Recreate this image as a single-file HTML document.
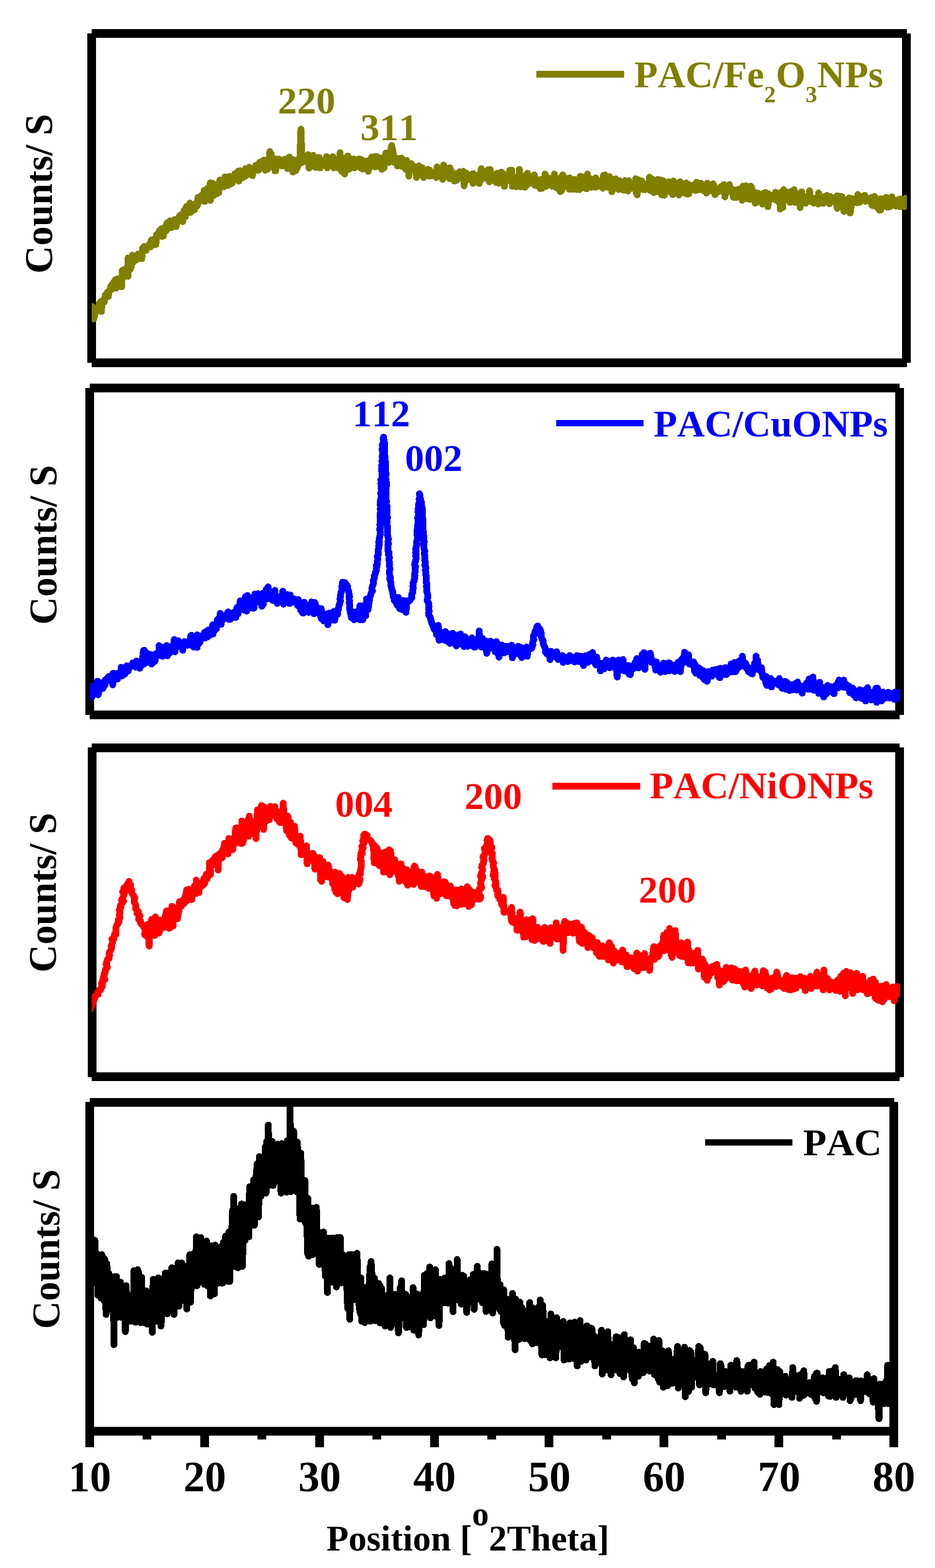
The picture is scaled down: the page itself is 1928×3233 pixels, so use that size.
<!DOCTYPE html>
<html lang="en"><head><meta charset="utf-8"><title>XRD patterns</title>
<style>html,body{margin:0;padding:0;background:#fff;}body{width:1928px;height:3233px;overflow:hidden;}svg{display:block;}text{white-space:pre;font-kerning:none;font-variant-ligatures:none;}</style>
</head><body>
<svg width="1928" height="3233" viewBox="0 0 1928 3233">
<rect width="1928" height="3233" fill="#fff"/>
<g shape-rendering="crispEdges"><rect x="180" y="69" width="18" height="679" fill="#000"/><rect x="1860" y="69" width="18" height="679" fill="#000"/><rect x="189" y="60" width="1681" height="18" fill="#000"/><rect x="189" y="739" width="1681" height="18" fill="#000"/><rect x="176" y="800" width="18" height="674" fill="#000"/><rect x="1846" y="800" width="18" height="674" fill="#000"/><rect x="185" y="791" width="1670" height="18" fill="#000"/><rect x="185" y="1465" width="1670" height="18" fill="#000"/><rect x="181" y="1541" width="18" height="680" fill="#000"/><rect x="1846" y="1541" width="18" height="680" fill="#000"/><rect x="189" y="1533" width="1666" height="18" fill="#000"/><rect x="189" y="2211" width="1666" height="18" fill="#000"/><rect x="176" y="2272" width="18" height="712" fill="#000"/><rect x="1834" y="2272" width="18" height="712" fill="#000"/><rect x="185" y="2264" width="1659" height="18" fill="#000"/><rect x="185" y="2942" width="1659" height="18" fill="#000"/><rect x="294" y="2960" width="18" height="8" fill="#000"/><rect x="413" y="2960" width="18" height="24" fill="#000"/><rect x="531" y="2960" width="18" height="8" fill="#000"/><rect x="650" y="2960" width="18" height="24" fill="#000"/><rect x="768" y="2960" width="18" height="8" fill="#000"/><rect x="887" y="2960" width="18" height="24" fill="#000"/><rect x="1005" y="2960" width="18" height="8" fill="#000"/><rect x="1123" y="2960" width="18" height="24" fill="#000"/><rect x="1242" y="2960" width="18" height="8" fill="#000"/><rect x="1360" y="2960" width="18" height="24" fill="#000"/><rect x="1479" y="2960" width="18" height="8" fill="#000"/><rect x="1597" y="2960" width="18" height="24" fill="#000"/><rect x="1716" y="2960" width="18" height="8" fill="#000"/></g>
<defs><clipPath id="c1"><rect x="189" y="78" width="1681" height="661"/></clipPath><clipPath id="c2"><rect x="185" y="809" width="1671" height="656"/></clipPath><clipPath id="c3"><rect x="189" y="1551" width="1667" height="660"/></clipPath><clipPath id="c4"><rect x="185" y="2273" width="1659" height="669"/></clipPath></defs>
<g shape-rendering="crispEdges">
<g clip-path="url(#c1)"><polyline points="180.0,636.3 182.3,648.7 184.3,635.5 186.1,645.3 188.1,636.4 189.7,635.8 190.5,632.2 192.1,655.5 193.5,657.7 195.9,647.1 198.0,636.1 199.6,634.9 201.7,640.4 203.4,636.0 205.1,624.8 207.3,632.2 207.5,622.1 209.1,642.4 210.5,620.5 212.9,623.0 215.3,622.2 217.1,608.0 218.9,611.0 221.1,609.1 221.7,602.4 223.3,611.3 224.7,602.5 226.4,599.8 228.7,589.1 230.7,596.3 232.3,586.2 234.1,583.1 235.8,580.4 236.1,589.6 237.7,577.0 239.1,594.3 240.8,582.8 242.8,574.8 244.8,582.6 246.5,590.0 248.6,581.7 250.4,579.7 250.7,591.5 252.3,557.3 253.7,572.9 255.6,559.3 257.9,557.7 260.2,553.4 262.0,553.7 263.9,569.9 264.1,531.7 265.7,557.5 267.1,547.2 269.0,554.6 271.0,548.1 273.0,535.0 273.3,526.1 274.9,540.4 276.3,536.3 278.1,529.2 280.3,536.1 282.6,529.3 284.9,523.9 286.6,524.2 288.2,532.7 290.4,525.2 292.2,529.8 292.4,533.5 294.0,511.9 295.4,513.7 297.2,508.2 299.3,512.5 301.1,516.5 302.7,510.1 304.5,507.7 306.3,506.9 306.6,509.4 308.2,503.2 309.6,509.5 311.7,495.1 313.8,498.3 315.5,498.0 317.1,505.2 319.4,491.5 321.1,490.5 321.4,504.3 323.0,483.6 324.4,486.2 326.4,488.2 328.6,476.0 330.8,487.3 332.6,472.0 334.8,487.6 334.9,471.7 336.5,486.8 337.9,470.0 340.0,468.9 342.0,476.2 343.7,460.9 346.0,458.6 348.2,459.3 349.0,470.3 350.6,455.3 352.0,468.3 354.2,468.8 356.2,462.1 358.0,457.8 360.1,452.6 362.4,457.6 363.2,467.0 364.8,452.4 366.2,455.6 368.5,448.7 370.8,444.1 372.7,445.9 374.6,442.2 376.9,456.8 377.3,455.6 378.9,436.4 380.3,433.2 382.3,446.8 384.5,425.4 386.8,435.0 388.8,438.6 390.6,434.4 391.5,418.5 393.1,437.8 394.5,436.4 396.8,424.2 398.5,426.0 400.8,432.7 402.8,423.4 404.7,419.3 406.4,416.2 406.7,424.5 408.3,407.2 409.7,416.2 411.8,415.1 413.7,405.1 416.0,402.7 418.4,406.8 420.3,402.6 420.6,393.0 422.2,415.4 423.6,407.6 425.5,409.4 427.7,388.2 429.9,397.3 431.8,402.9 433.5,377.1 433.9,413.2 435.5,387.0 436.9,378.3 438.8,378.0 440.9,402.9 443.2,380.4 445.2,386.4 447.4,384.4 448.1,399.0 449.7,379.8 451.1,397.3 453.4,371.2 455.5,381.8 457.8,371.7 460.1,373.5 462.0,375.5 462.2,384.9 463.8,364.6 465.2,373.1 467.5,370.2 469.2,366.9 470.9,382.0 472.6,363.7 474.9,372.3 477.1,378.9 477.4,364.7 479.0,377.3 480.4,368.4 482.2,367.8 484.2,358.3 486.5,359.7 488.4,361.1 490.7,365.3 491.0,353.1 492.6,373.6 494.0,357.3 495.7,351.8 497.8,357.6 499.4,366.7 501.3,357.2 503.6,351.8 504.7,363.8 506.3,347.8 507.7,354.4 510.0,360.1 512.0,353.1 513.7,344.8 516.0,357.9 518.0,351.3 518.8,348.1 520.4,362.2 521.8,353.9 523.4,350.6 525.6,351.3 527.4,340.9 529.1,350.9 531.3,347.8 533.1,346.2 533.4,350.9 535.0,335.3 536.4,334.3 538.1,344.3 539.9,334.3 541.9,333.5 544.2,330.2 546.0,331.4 547.1,350.9 548.7,330.8 550.1,330.1 551.9,348.8 554.3,335.0 556.1,326.0 556.4,312.4 558.0,335.3 559.4,317.6 561.1,340.2 563.0,334.0 564.8,334.7 566.9,352.3 566.9,329.3 568.5,352.3 569.9,327.6 572.1,338.0 573.8,338.7 575.4,328.3 577.5,332.5 579.2,335.7 581.4,336.6 581.7,342.4 583.3,329.4 584.7,340.2 587.0,332.8 588.8,328.0 590.8,337.8 592.8,347.6 595.1,338.6 596.8,323.7 598.7,341.9 600.5,343.7 602.1,348.0 602.4,328.5 604.0,354.7 605.4,331.5 607.5,330.4 609.5,352.2 618.0,334.7 619.4,300.8 620.6,266.2 621.7,300.8 623.1,334.7 630.8,330.5 633.1,332.1 635.3,318.9 637.3,346.7 639.4,323.6 641.6,334.9 643.8,326.2 644.1,342.7 645.7,320.4 647.1,327.4 649.2,343.2 651.0,345.0 652.9,330.0 655.0,325.2 656.9,329.6 658.3,324.7 659.9,346.2 661.3,334.9 663.3,333.1 665.5,333.0 667.2,340.8 668.9,330.9 670.7,335.7 673.1,325.0 673.4,323.0 675.0,346.2 676.4,330.6 678.6,342.1 680.8,337.9 682.5,337.2 684.4,331.5 686.2,323.2 686.6,326.3 688.2,346.2 689.6,333.4 691.6,328.5 693.8,337.8 695.8,329.5 697.6,346.4 699.3,332.2 701.0,334.8 701.3,314.7 702.9,344.8 704.3,352.8 706.6,345.4 708.3,346.3 709.2,326.7 710.8,358.9 712.2,328.6 714.5,332.1 716.9,321.5 717.7,325.0 719.3,349.0 720.7,326.5 722.3,334.5 724.4,339.6 726.5,339.6 728.5,333.7 729.0,328.0 730.6,346.2 732.0,343.5 734.4,334.7 736.1,330.8 738.4,337.4 740.3,327.5 742.1,332.9 743.2,346.2 744.8,329.2 746.2,329.4 748.0,348.7 750.3,335.8 751.9,343.2 753.8,340.7 755.9,346.6 757.6,345.3 757.9,331.5 759.5,353.3 760.9,332.8 762.7,344.8 764.5,337.6 766.2,323.9 767.9,341.0 770.1,327.0 771.9,331.2 772.2,323.2 773.8,344.4 775.2,338.3 777.0,322.7 779.4,330.7 781.3,331.7 783.6,336.7 785.3,343.4 785.6,325.7 787.2,349.0 788.6,338.7 790.3,335.5 791.9,345.8 793.8,329.1 795.6,315.5 802.0,334.7 805.1,312.1 807.6,300.2 810.2,312.1 813.3,334.7 817.5,326.4 819.4,342.0 821.1,332.3 823.5,327.1 825.8,342.4 828.1,333.6 828.1,326.1 829.7,343.6 831.1,343.2 833.0,337.0 834.8,336.8 836.8,349.1 838.5,330.8 840.5,339.8 842.8,342.2 843.1,363.2 844.7,340.0 846.1,345.9 848.1,337.4 850.5,345.8 852.6,350.5 854.7,346.7 856.9,353.4 857.2,344.2 858.8,366.0 860.2,353.2 861.9,351.9 863.7,342.1 865.5,354.4 867.7,346.5 869.6,346.7 870.5,345.9 872.1,361.9 873.5,366.1 875.7,360.7 877.9,353.3 880.1,361.3 882.3,349.3 884.7,361.9 884.7,363.2 886.3,350.8 887.7,353.7 889.6,360.3 892.0,362.1 893.9,356.3 895.8,357.7 897.7,355.9 899.5,352.6 899.8,366.0 901.4,344.1 902.8,361.7 904.9,357.5 907.2,358.5 909.0,355.9 910.7,356.6 912.8,369.7 913.0,363.4 914.6,340.2 916.0,357.0 918.0,349.7 920.3,351.3 922.6,359.4 924.9,353.6 927.3,368.6 927.6,345.9 929.2,365.5 930.6,363.1 932.6,354.5 934.6,358.4 936.7,373.2 938.5,368.9 940.4,363.1 941.3,371.7 942.9,357.6 944.3,366.3 946.1,368.5 948.4,354.2 950.8,363.6 952.6,360.4 954.8,364.4 955.4,353.3 957.0,383.0 958.4,372.3 960.6,369.6 962.3,357.5 964.6,367.7 966.7,370.5 968.9,363.0 971.1,369.5 973.3,364.8 975.1,358.0 975.4,378.0 977.0,360.3 978.4,363.2 980.1,362.4 982.2,372.8 984.1,363.0 986.0,360.6 988.0,378.5 990.1,360.0 990.9,373.0 992.5,347.8 993.9,353.8 995.5,358.4 997.9,363.5 1000.0,355.7 1001.8,353.3 1003.6,368.0 1005.5,350.3 1007.3,367.8 1007.6,352.2 1009.2,374.9 1010.6,349.5 1012.5,358.1 1014.7,368.6 1016.4,368.4 1018.6,366.2 1020.5,364.1 1022.7,367.6 1023.0,376.3 1024.6,357.3 1026.0,368.7 1027.7,377.8 1029.7,366.1 1031.8,371.6 1033.7,354.8 1035.6,368.4 1037.5,370.2 1038.4,358.6 1040.0,384.4 1041.4,367.7 1043.2,367.8 1045.1,366.2 1047.0,365.0 1049.0,372.4 1051.1,351.3 1052.8,370.0 1054.9,350.5 1055.2,360.8 1056.8,384.4 1058.2,379.0 1060.4,366.5 1062.6,374.9 1064.7,384.9 1066.5,373.4 1068.5,370.7 1070.7,356.1 1071.0,349.4 1072.6,374.0 1074.0,385.2 1075.7,378.0 1077.8,362.5 1079.8,367.8 1082.2,386.0 1084.5,367.5 1085.9,382.4 1087.5,357.3 1088.9,369.5 1090.9,374.8 1093.0,368.1 1094.6,377.7 1097.0,374.2 1099.4,369.9 1101.5,368.3 1101.7,360.5 1103.3,382.3 1104.7,380.2 1106.7,376.9 1108.4,370.4 1110.1,384.2 1112.2,378.7 1114.0,388.9 1114.4,388.4 1116.0,370.0 1117.4,388.2 1119.4,375.2 1121.3,367.9 1123.5,365.7 1123.9,358.9 1125.5,384.6 1126.9,378.3 1128.8,366.6 1130.9,381.5 1132.9,367.6 1134.9,379.1 1136.5,369.2 1138.7,383.9 1140.8,365.5 1143.0,369.5 1143.3,358.9 1144.9,381.1 1146.3,384.8 1148.2,387.6 1150.2,380.0 1152.0,372.9 1153.8,385.7 1155.4,395.1 1157.6,364.2 1158.7,391.8 1160.3,360.5 1161.7,378.4 1164.1,366.6 1165.7,379.6 1167.8,374.2 1170.1,384.0 1172.0,378.2 1173.8,390.4 1174.6,366.8 1176.2,383.7 1177.6,383.2 1179.2,389.9 1181.0,380.6 1183.0,390.2 1185.0,369.9 1186.8,373.1 1189.1,390.6 1190.9,381.0 1192.8,371.4 1194.6,391.0 1196.3,363.4 1196.7,387.3 1198.3,363.7 1199.7,387.5 1201.6,385.7 1203.9,386.9 1205.6,366.4 1207.8,387.0 1209.4,373.0 1209.7,389.4 1211.3,358.9 1212.7,380.2 1214.9,383.3 1217.1,368.2 1219.4,385.9 1221.5,378.0 1223.8,383.2 1226.0,375.6 1227.6,386.1 1228.4,366.8 1230.0,383.3 1231.4,384.8 1233.2,378.9 1235.0,377.1 1236.9,373.2 1239.1,375.7 1241.1,380.9 1242.9,388.0 1244.5,361.5 1246.4,374.3 1247.4,360.5 1249.0,379.8 1250.4,367.6 1252.5,369.1 1254.7,386.7 1256.8,364.3 1258.9,379.5 1260.1,375.0 1261.7,395.4 1263.1,386.5 1264.9,389.9 1266.8,382.7 1269.0,368.5 1270.8,375.9 1272.9,380.9 1274.9,388.6 1275.9,390.7 1277.5,372.7 1278.9,382.2 1280.6,387.7 1282.6,381.2 1284.5,379.4 1286.2,392.5 1288.5,372.3 1290.8,376.5 1292.5,384.2 1294.2,385.5 1294.9,393.9 1296.5,372.4 1297.9,378.2 1300.2,380.0 1301.9,382.4 1304.1,388.5 1306.3,384.8 1308.3,381.5 1310.1,390.8 1310.7,368.4 1312.3,398.0 1313.7,401.7 1315.5,370.4 1317.1,387.2 1318.9,385.9 1320.8,379.4 1322.6,378.8 1323.4,373.2 1325.0,390.7 1326.4,382.0 1328.2,381.0 1330.0,391.1 1332.0,388.9 1333.8,378.9 1336.2,380.7 1338.1,381.3 1339.3,365.3 1340.9,392.7 1342.3,392.9 1344.6,374.3 1346.5,369.8 1348.4,397.0 1350.7,387.6 1352.4,394.7 1354.4,389.7 1355.1,394.8 1356.7,370.0 1358.1,392.7 1360.5,379.7 1362.2,371.3 1364.2,401.7 1366.0,395.6 1367.9,395.6 1368.2,373.2 1369.8,402.6 1371.2,390.3 1373.0,386.1 1375.3,393.3 1377.2,390.6 1379.5,374.7 1381.2,385.0 1382.8,396.4 1385.1,381.7 1387.1,401.4 1387.4,395.2 1389.0,373.2 1390.4,395.1 1392.1,397.7 1393.9,379.2 1395.6,393.5 1397.8,387.9 1399.9,402.1 1401.6,390.8 1402.6,374.8 1404.2,396.5 1405.6,394.7 1407.4,385.5 1409.1,394.5 1410.8,398.3 1412.8,387.4 1415.1,392.1 1415.3,377.2 1416.9,400.2 1418.3,383.6 1420.4,399.6 1422.2,381.2 1424.3,392.1 1426.2,389.9 1427.9,382.4 1432.2,389.8 1434.0,389.4 1434.5,392.8 1436.1,375.8 1437.5,391.2 1439.2,382.4 1440.9,391.4 1443.0,383.4 1445.2,377.8 1446.8,380.8 1448.4,389.7 1450.4,393.1 1452.4,388.2 1454.4,382.9 1456.0,390.2 1456.7,398.0 1458.3,377.6 1459.7,383.6 1461.7,382.4 1463.8,393.3 1465.8,385.5 1468.2,389.3 1470.3,378.9 1472.2,384.2 1472.5,383.0 1474.1,401.2 1475.5,392.3 1477.2,395.2 1479.0,396.3 1480.9,394.2 1482.7,389.7 1484.4,388.1 1486.0,385.6 1488.1,386.4 1490.1,394.6 1492.2,380.7 1494.2,388.1 1494.7,405.9 1496.3,384.5 1497.7,397.4 1499.9,388.3 1502.0,385.7 1504.3,380.5 1506.0,388.3 1508.1,389.2 1510.0,392.7 1512.0,406.5 1513.8,396.2 1514.1,407.5 1515.7,391.9 1517.1,403.3 1518.7,406.8 1520.4,405.4 1522.4,400.0 1524.1,389.6 1526.4,402.0 1528.2,398.2 1530.2,403.9 1530.5,412.9 1532.1,383.7 1533.5,391.9 1535.4,402.8 1537.7,383.2 1539.7,387.8 1541.8,410.2 1544.1,404.3 1546.0,397.4 1546.3,411.0 1547.9,383.7 1549.3,385.7 1551.7,393.0 1553.4,401.1 1555.5,397.4 1557.4,418.9 1559.0,397.6 1561.2,407.8 1561.2,417.0 1562.8,398.4 1564.2,408.1 1566.1,415.3 1568.1,408.6 1570.0,402.3 1572.2,420.7 1574.1,398.6 1576.3,415.3 1578.7,397.0 1580.7,417.5 1582.9,411.9 1583.4,426.5 1585.0,399.8 1586.4,412.9 1588.1,407.1 1590.1,409.2 1591.9,402.9 1593.6,402.9 1595.6,403.4 1597.3,410.9 1598.9,411.0 1599.2,396.3 1600.8,412.6 1602.2,403.5 1604.0,414.6 1605.9,400.3 1608.2,406.3 1608.7,431.3 1610.3,396.3 1611.7,411.8 1614.1,427.7 1616.0,391.2 1618.3,407.3 1619.9,402.8 1621.7,409.6 1623.5,408.8 1624.6,412.7 1626.2,396.3 1627.6,410.1 1629.2,417.5 1631.2,409.8 1633.4,393.8 1635.3,409.0 1637.5,391.3 1639.9,417.5 1640.4,397.3 1642.0,417.0 1643.4,417.1 1645.0,400.9 1646.9,404.8 1648.8,399.7 1649.9,428.1 1651.5,401.7 1652.9,395.5 1655.2,407.2 1657.1,411.7 1659.3,410.6 1661.3,419.0 1663.5,407.4 1665.2,408.1 1667.1,403.7 1669.1,404.1 1669.4,393.2 1671.0,409.6 1672.4,408.1 1674.2,416.6 1676.4,417.7 1678.4,418.7 1680.7,409.0 1682.9,415.4 1684.6,407.6 1687.0,420.6 1687.9,397.9 1689.5,417.1 1690.9,416.7 1692.8,418.5 1694.9,412.8 1697.2,419.5 1699.5,405.4 1701.6,405.3 1703.3,415.5 1705.2,402.9 1707.4,405.6 1709.1,413.4 1710.1,420.2 1711.7,405.1 1713.1,407.0 1715.2,407.4 1717.2,416.2 1719.2,412.0 1721.6,413.9 1723.8,408.9 1726.2,403.5 1726.5,429.7 1728.1,408.5 1729.5,426.4 1731.7,407.4 1734.0,404.9 1736.3,405.8 1737.9,419.2 1738.6,415.1 1740.2,436.0 1741.6,411.5 1743.9,424.6 1745.6,418.9 1747.3,434.6 1749.3,423.8 1751.1,409.5 1751.2,408.2 1752.8,439.2 1754.2,433.8 1756.0,409.3 1757.9,419.1 1759.7,417.2 1762.0,416.3 1763.8,410.4 1765.7,417.1 1767.1,418.2 1768.7,401.1 1770.1,404.6 1772.2,417.1 1773.9,404.9 1776.1,410.2 1778.0,411.5 1779.8,408.4 1781.9,408.3 1782.9,402.7 1784.5,415.0 1785.9,409.9 1787.6,414.2 1790.0,410.8 1791.7,412.4 1794.1,413.7 1796.0,408.7 1796.3,407.4 1797.9,423.2 1799.3,407.3 1801.2,424.2 1803.2,405.2 1805.1,417.5 1807.2,419.1 1809.1,428.3 1811.4,414.3 1813.5,433.0 1814.6,409.9 1816.2,432.9 1817.6,410.3 1819.2,412.2 1821.2,415.7 1823.5,425.2 1825.4,413.3 1827.2,406.8 1829.1,426.8 1830.9,427.2 1832.8,410.0 1835.1,426.1 1837.2,413.6 1837.5,421.5 1839.1,405.9 1840.5,415.7 1842.7,414.2 1845.0,412.5 1847.3,424.8 1849.3,418.5 1851.2,413.1 1853.3,418.7 1853.6,410.9 1855.2,426.5 1856.6,410.3 1858.8,425.3 1860.9,421.4 1862.9,419.5 1864.8,417.5 1865.3,425.9 1866.9,409.0 1868.3,416.4 1870.2,420.0 1871.9,417.5" fill="none" stroke="#808000" stroke-width="14" stroke-linejoin="round" stroke-linecap="round"/></g>
<g clip-path="url(#c2)"><polyline points="182.7,1430.7 184.3,1426.1 184.4,1415.1 186.0,1431.9 187.4,1416.9 189.2,1437.3 191.6,1417.9 193.9,1431.1 196.0,1431.5 197.7,1411.4 200.0,1409.4 200.9,1404.5 202.5,1432.6 203.9,1409.4 206.1,1422.6 208.2,1408.1 210.3,1408.2 212.2,1419.4 214.4,1414.1 216.1,1403.0 216.7,1412.0 218.3,1400.6 219.7,1401.8 222.0,1401.7 224.1,1394.7 226.2,1399.4 228.5,1396.6 230.6,1405.3 232.4,1388.7 232.5,1412.0 234.1,1388.1 235.5,1389.7 237.9,1388.9 239.9,1399.6 242.2,1400.3 244.1,1387.9 245.8,1393.0 247.8,1385.6 248.4,1393.5 250.0,1375.5 251.4,1393.8 253.6,1386.5 255.7,1386.0 257.4,1389.9 259.3,1386.3 261.3,1372.6 263.5,1374.4 264.2,1383.5 265.8,1374.1 267.2,1377.1 269.4,1374.0 271.6,1372.3 273.9,1366.5 275.5,1367.0 277.5,1370.1 279.2,1368.9 280.0,1375.7 281.6,1362.9 283.0,1374.8 284.7,1366.9 286.5,1366.1 288.3,1377.9 290.1,1370.3 291.8,1367.0 293.7,1358.2 296.0,1341.2 296.3,1369.6 297.9,1340.7 299.3,1360.3 301.2,1366.9 303.4,1355.1 305.2,1347.9 307.0,1356.5 309.1,1359.6 310.8,1364.9 312.5,1349.9 312.8,1369.3 314.4,1351.9 315.8,1365.8 317.4,1354.7 319.5,1363.5 321.3,1347.9 323.3,1351.5 325.6,1350.3 327.9,1350.2 328.2,1331.2 329.8,1351.6 331.2,1343.5 333.2,1334.5 335.2,1353.2 337.0,1342.4 339.2,1347.1 341.2,1339.0 343.6,1331.2 343.9,1331.2 345.5,1352.0 346.9,1333.5 348.7,1347.1 350.4,1345.9 352.2,1340.2 354.2,1340.9 356.2,1334.4 358.5,1325.8 359.2,1318.5 360.8,1343.9 362.2,1327.4 364.5,1334.3 366.1,1330.1 367.9,1321.2 370.2,1332.4 372.1,1326.4 374.0,1327.0 375.1,1327.4 376.7,1340.8 378.1,1333.5 379.9,1322.9 381.7,1328.8 384.1,1329.0 385.9,1330.7 387.6,1325.4 389.6,1321.3 391.5,1325.3 391.8,1329.7 393.4,1310.6 394.8,1309.8 397.2,1318.2 399.1,1334.1 401.1,1326.0 402.9,1325.3 404.7,1325.5 406.5,1334.8 406.7,1309.0 408.3,1328.9 409.7,1327.3 411.7,1324.8 413.6,1320.6 416.0,1310.6 418.1,1312.0 419.7,1310.2 421.9,1303.6 422.6,1315.6 424.2,1302.7 425.6,1313.7 427.8,1313.3 429.6,1298.9 431.7,1306.1 433.3,1309.7 435.1,1298.1 436.9,1295.2 438.8,1288.3 439.1,1307.5 440.7,1293.9 442.1,1300.7 444.3,1287.4 446.2,1296.4 447.9,1278.3 450.0,1280.4 452.0,1273.1 453.8,1272.7 454.2,1264.7 455.8,1287.4 457.2,1274.4 459.0,1272.9 461.2,1277.0 462.8,1270.2 465.1,1270.5 466.8,1269.1 468.6,1263.8 470.3,1266.0 470.6,1261.5 472.2,1277.5 473.6,1277.0 475.3,1276.7 477.0,1266.8 478.7,1264.1 480.4,1272.9 482.1,1262.8 484.1,1266.5 486.0,1263.2 486.3,1273.1 487.9,1255.2 489.3,1252.0 491.0,1265.6 493.1,1255.5 495.4,1241.5 495.4,1238.6 497.0,1253.7 498.4,1238.7 500.3,1249.4 502.4,1244.5 504.1,1258.1 506.1,1230.1 508.4,1237.2 508.7,1260.0 510.3,1227.8 511.7,1230.0 513.6,1253.9 515.9,1247.4 517.8,1238.1 520.1,1253.8 521.8,1238.4 523.4,1253.8 523.9,1252.5 525.5,1225.1 526.9,1241.5 528.6,1241.9 530.4,1240.9 532.5,1224.2 534.4,1232.2 536.3,1227.1 537.9,1233.0 539.7,1239.9 539.8,1250.0 541.4,1223.5 542.8,1246.1 544.4,1224.1 546.7,1232.2 549.0,1215.4 551.0,1226.1 551.3,1234.7 552.9,1210.0 554.3,1223.2 556.2,1228.4 558.0,1229.1 560.0,1233.9 561.8,1237.9 564.1,1221.5 565.1,1238.1 566.7,1217.2 568.1,1232.5 569.9,1232.7 571.8,1244.1 574.0,1231.0 575.8,1234.3 577.7,1235.7 579.5,1228.8 581.2,1231.1 581.5,1236.2 583.1,1218.8 584.5,1245.8 586.6,1239.3 588.8,1239.4 590.4,1233.3 592.6,1226.0 594.6,1229.1 596.3,1239.9 596.8,1244.5 598.4,1226.7 599.8,1240.7 601.8,1242.1 603.6,1234.1 605.4,1239.3 607.1,1235.2 609.2,1238.5 611.2,1243.0 613.1,1244.2 613.4,1248.4 615.0,1236.2 616.4,1250.0 618.1,1248.2 620.1,1258.3 621.9,1249.9 622.1,1242.5 623.7,1263.7 625.1,1264.5 627.0,1241.6 628.8,1250.3 630.6,1254.3 632.8,1255.6 634.5,1248.1 636.4,1262.7 638.4,1248.6 640.5,1253.2 642.5,1241.2 644.9,1255.7 646.9,1250.1 647.2,1265.6 648.8,1242.4 650.2,1244.8 651.9,1257.0 653.7,1251.7 655.9,1262.6 658.2,1266.2 660.4,1256.6 662.4,1275.6 662.5,1255.1 664.1,1273.4 665.5,1268.2 667.4,1280.4 669.8,1266.2 672.0,1268.4 673.6,1273.4 675.7,1278.7 676.0,1288.3 677.6,1264.6 679.0,1264.2 680.9,1279.9 682.9,1268.0 684.5,1273.8 686.3,1274.5 688.3,1271.3 688.6,1260.4 690.2,1278.9 691.6,1269.3 696.0,1266.5 695.9,1263.4 696.6,1257.9 698.2,1256.0 698.4,1252.2 699.2,1248.2 700.8,1243.7 702.1,1239.4 700.9,1234.5 702.4,1230.7 702.4,1226.2 703.2,1221.0 704.4,1218.3 705.2,1213.1 704.9,1209.0 705.9,1204.7 706.2,1200.5 711.2,1201.6 714.9,1206.0 716.7,1209.5 716.0,1212.3 718.0,1216.5 719.1,1220.0 719.9,1226.4 720.9,1230.1 719.8,1233.3 720.8,1239.2 720.1,1242.9 721.5,1247.2 720.8,1250.3 720.5,1255.1 721.9,1259.7 724.7,1273.5 727.1,1263.8 729.4,1261.8 729.8,1277.9 731.4,1262.1 732.8,1264.2 735.2,1263.7 737.1,1263.6 737.4,1276.2 739.0,1261.1 740.4,1260.5 742.2,1249.0 742.5,1277.9 744.1,1251.8 745.5,1256.4 746.7,1251.9 748.3,1277.9 749.7,1249.1 751.5,1256.0 753.9,1257.2 754.2,1269.9 755.8,1234.9 757.2,1256.4 758.9,1256.9 762.7,1231.1 764.3,1227.2 764.7,1224.6 765.9,1221.7 767.9,1218.7 767.0,1213.3 767.7,1209.6 769.2,1205.7 770.3,1201.4 769.9,1197.0 771.5,1193.6 771.5,1187.9 773.6,1184.5 773.7,1180.8 775.7,1177.3 776.0,1174.1 776.7,1169.5 776.0,1165.9 778.2,1163.1 777.8,1159.5 778.9,1153.8 779.0,1152.0 778.0,1147.3 779.8,1144.0 779.9,1139.4 779.6,1137.7 780.2,1133.1 781.1,1128.9 780.9,1125.7 782.3,1122.7 780.9,1118.2 782.5,1115.4 782.2,1111.0 782.8,1107.3 783.6,1104.3 784.1,1098.5 783.7,1095.4 782.8,1091.0 784.5,1089.2 783.8,1084.6 783.3,1081.9 784.7,1076.5 784.3,1074.9 783.7,1069.9 784.0,1066.3 783.5,1063.3 783.9,1059.9 784.5,1056.7 785.3,1053.2 784.0,1049.5 785.6,1044.7 783.8,1040.6 785.8,1039.0 784.2,1033.7 785.1,1029.7 785.7,1027.9 786.3,1022.7 786.6,1020.5 784.9,1017.1 786.8,1013.5 786.5,1009.8 786.1,1004.2 786.5,1001.8 785.3,997.3 787.3,995.4 785.4,989.5 787.1,986.4 787.7,983.1 787.5,978.3 787.8,974.9 787.2,971.9 787.1,967.5 787.6,963.3 787.0,960.0 788.8,956.9 789.2,954.8 787.4,951.2 789.5,946.7 788.4,943.7 788.5,939.2 789.3,935.6 788.5,931.6 788.5,930.0 788.2,925.0 788.9,921.7 788.3,917.5 789.1,915.6 790.8,912.0 790.9,908.8 790.2,904.4 790.9,901.4 791.2,904.4 792.3,908.7 792.5,910.8 792.5,915.6 793.5,917.9 793.3,922.7 792.1,924.8 793.3,929.5 792.9,933.0 792.6,936.4 793.7,940.6 794.4,942.3 794.2,945.9 794.3,950.8 794.9,952.7 794.6,956.6 794.8,960.9 794.9,965.0 794.6,967.9 794.5,970.9 795.6,974.4 796.1,978.6 794.6,983.2 794.4,985.6 796.1,988.5 796.3,993.5 797.1,996.5 796.8,1001.7 796.1,1003.2 795.9,1008.5 795.1,1011.7 796.5,1015.6 796.3,1019.8 795.8,1022.3 796.4,1026.4 796.3,1029.8 797.0,1034.8 796.1,1037.0 796.5,1041.8 798.2,1043.9 798.3,1049.7 797.6,1052.6 798.5,1056.9 797.2,1060.0 796.9,1062.7 799.0,1066.9 798.2,1070.0 798.1,1072.6 798.4,1078.3 797.4,1079.7 798.8,1085.3 798.5,1087.3 799.3,1092.4 798.5,1096.4 799.4,1100.1 798.9,1102.7 800.1,1107.0 800.7,1111.3 800.6,1112.7 800.2,1117.9 801.2,1120.7 799.6,1124.9 800.1,1128.4 800.4,1132.9 800.1,1135.7 802.3,1139.5 800.7,1142.9 802.5,1146.7 802.8,1150.8 801.8,1152.8 802.7,1157.2 803.2,1160.8 803.2,1163.7 803.4,1169.0 803.8,1172.4 803.6,1174.6 803.1,1178.4 803.3,1182.8 803.7,1186.6 805.3,1191.0 803.5,1193.7 805.1,1196.9 805.8,1201.6 805.9,1206.1 806.9,1210.7 808.1,1216.1 810.2,1220.7 810.0,1224.8 811.2,1227.8 810.9,1230.5 813.8,1234.7 812.7,1237.5 815.2,1240.3 818.4,1244.6 819.3,1248.3 820.9,1231.5 822.3,1234.7 824.3,1249.5 824.3,1255.4 825.9,1239.9 827.3,1252.8 829.7,1257.1 831.6,1256.4 831.9,1238.2 833.5,1256.9 834.9,1242.0 836.9,1249.9 837.2,1262.7 838.8,1239.0 840.2,1241.9 846.2,1236.1 848.6,1233.3 849.4,1230.3 848.8,1226.1 850.9,1221.7 851.1,1217.9 852.1,1212.6 851.4,1208.6 851.7,1205.0 852.1,1200.9 854.0,1197.5 854.4,1194.5 855.1,1191.2 855.6,1187.2 854.8,1184.8 855.7,1179.9 856.4,1176.8 856.1,1171.4 856.9,1167.9 855.1,1164.7 855.7,1160.7 856.7,1157.6 857.4,1154.7 857.7,1150.9 857.3,1145.6 858.2,1144.0 857.1,1139.5 857.9,1136.7 857.3,1131.9 858.3,1128.0 859.5,1123.5 858.6,1122.2 859.3,1116.3 859.9,1114.3 860.9,1111.2 861.2,1106.1 859.9,1103.5 860.2,1099.1 859.7,1095.1 860.1,1091.9 861.7,1087.8 860.9,1083.9 861.3,1081.5 862.0,1078.1 862.0,1074.6 862.9,1071.3 861.1,1067.9 862.5,1064.4 863.3,1059.5 861.8,1055.0 863.8,1051.2 862.2,1049.3 863.8,1045.0 862.8,1041.4 864.8,1034.9 864.6,1031.5 864.2,1028.5 866.3,1023.4 866.2,1021.9 864.8,1018.2 865.6,1021.6 866.5,1026.1 867.3,1030.6 868.3,1035.3 869.5,1036.8 868.2,1040.9 870.4,1045.8 870.9,1049.7 870.8,1052.5 871.2,1056.8 871.4,1060.5 870.9,1062.3 871.3,1067.3 872.3,1071.1 872.3,1075.1 871.2,1078.7 871.9,1081.2 871.8,1084.9 872.0,1089.1 871.8,1092.0 872.9,1096.9 873.3,1099.5 872.8,1104.0 874.4,1106.7 873.5,1111.5 874.8,1116.7 873.2,1121.5 874.4,1123.9 873.9,1127.9 874.5,1132.2 875.8,1135.9 875.3,1140.8 875.5,1143.5 875.8,1147.5 876.3,1151.5 875.8,1155.3 877.3,1159.6 877.0,1161.6 875.8,1165.5 878.5,1170.5 878.1,1172.2 877.2,1175.7 878.0,1181.3 877.8,1184.6 878.8,1186.9 878.9,1190.0 879.5,1195.6 879.0,1199.4 879.2,1201.5 880.4,1204.8 879.1,1209.1 880.4,1211.9 879.9,1215.4 880.1,1219.1 881.5,1224.5 881.6,1226.5 881.7,1231.9 881.5,1235.0 881.2,1239.3 883.7,1243.0 884.3,1247.3 884.6,1251.3 884.0,1255.0 884.9,1260.4 884.0,1264.4 884.4,1268.5 887.0,1272.6 887.8,1275.3 888.8,1278.7 889.3,1281.7 896.1,1298.6 898.4,1292.4 900.3,1308.7 901.9,1302.7 903.6,1289.4 903.9,1296.3 905.5,1320.1 906.9,1301.3 908.6,1315.2 910.4,1307.0 912.5,1317.6 914.8,1311.6 916.5,1309.5 916.8,1320.1 918.4,1302.3 919.8,1316.2 921.9,1322.0 923.8,1306.8 926.1,1319.1 927.8,1326.6 929.7,1323.1 931.3,1322.3 931.7,1325.4 933.3,1305.7 934.7,1316.5 937.0,1321.8 938.7,1310.8 941.0,1331.8 943.2,1310.3 945.5,1309.1 947.7,1320.0 948.0,1327.7 949.6,1307.3 951.0,1313.5 952.7,1319.8 954.4,1319.1 956.7,1333.2 959.0,1313.2 960.8,1317.8 962.5,1319.6 964.2,1319.9 964.5,1332.7 966.1,1320.6 967.5,1321.2 969.9,1330.2 971.9,1330.7 972.9,1315.2 974.5,1332.2 975.9,1326.8 977.9,1334.2 979.9,1334.1 981.5,1326.9 983.8,1324.6 985.8,1316.6 987.8,1311.4 988.1,1301.0 989.7,1322.3 991.1,1331.5 993.2,1334.5 995.1,1316.5 997.4,1326.5 999.4,1324.4 1001.7,1321.7 1002.0,1323.3 1003.6,1347.0 1005.0,1333.3 1007.2,1338.5 1009.0,1325.3 1011.1,1327.0 1011.4,1321.8 1013.0,1335.9 1014.4,1326.3 1016.5,1333.0 1018.1,1335.2 1019.9,1335.6 1021.6,1344.6 1023.3,1323.1 1025.3,1336.4 1027.0,1349.1 1027.3,1328.4 1028.9,1354.9 1030.3,1334.8 1032.5,1347.6 1034.8,1330.0 1037.2,1343.5 1039.5,1346.4 1041.7,1332.5 1043.3,1332.8 1044.5,1344.2 1046.5,1340.1 1048.5,1333.0 1050.7,1332.4 1052.7,1341.4 1054.7,1338.8 1055.0,1330.3 1056.6,1356.3 1058.0,1346.7 1060.3,1349.5 1062.2,1337.5 1063.9,1342.0 1066.2,1341.9 1068.5,1332.5 1070.5,1348.9 1070.9,1347.9 1072.5,1334.1 1073.9,1335.7 1076.1,1355.9 1077.9,1348.4 1079.9,1345.2 1082.0,1348.0 1083.8,1335.3 1084.1,1352.0 1085.7,1334.1 1087.1,1353.4 1089.3,1340.0 1096.4,1336.5 1097.2,1332.3 1098.9,1329.2 1098.1,1327.0 1099.0,1322.2 1100.7,1319.0 1100.1,1314.0 1100.3,1310.7 1102.7,1307.7 1103.4,1303.8 1103.4,1301.8 1106.1,1297.4 1107.2,1292.2 1108.9,1290.5 1109.3,1294.3 1112.8,1296.5 1114.5,1299.9 1116.0,1306.0 1115.4,1308.3 1116.0,1312.2 1117.0,1315.7 1118.2,1318.6 1120.3,1322.3 1120.0,1326.0 1121.4,1330.6 1123.0,1333.8 1124.3,1336.6 1125.4,1339.6 1125.0,1344.3 1127.1,1347.6 1130.3,1349.6 1132.4,1346.3 1134.1,1360.0 1134.2,1359.5 1135.8,1342.8 1137.2,1355.3 1139.4,1352.2 1141.6,1352.3 1143.6,1346.9 1145.3,1346.4 1147.5,1353.5 1147.8,1343.6 1149.4,1356.6 1150.8,1359.8 1152.5,1357.7 1154.8,1354.0 1156.7,1354.8 1159.0,1359.8 1159.6,1351.5 1161.2,1365.7 1162.6,1359.0 1164.5,1361.2 1166.8,1356.3 1168.5,1357.1 1170.7,1363.8 1172.7,1359.6 1173.0,1363.3 1174.6,1351.5 1176.0,1359.4 1178.3,1356.5 1180.4,1355.8 1182.6,1358.4 1184.8,1364.9 1187.0,1357.9 1188.1,1363.2 1189.7,1351.5 1191.1,1358.2 1193.3,1364.1 1195.4,1353.6 1197.8,1353.2 1199.6,1360.7 1201.3,1363.9 1201.6,1359.2 1203.2,1372.2 1204.6,1366.5 1206.9,1352.3 1208.8,1363.4 1210.7,1357.7 1212.3,1360.3 1212.6,1365.8 1214.2,1349.9 1215.6,1358.0 1217.4,1349.7 1219.2,1362.0 1221.4,1353.4 1221.7,1345.2 1223.3,1359.5 1224.7,1354.4 1226.9,1366.8 1228.6,1370.9 1230.4,1355.0 1232.1,1368.4 1234.0,1370.6 1236.2,1372.1 1236.5,1367.2 1238.1,1383.3 1239.5,1375.5 1241.7,1368.1 1243.3,1376.6 1245.3,1379.5 1247.3,1370.1 1248.2,1375.1 1249.8,1361.0 1251.2,1370.0 1253.4,1362.9 1255.1,1372.1 1257.3,1376.9 1259.3,1370.0 1261.3,1368.2 1261.6,1371.4 1263.2,1361.0 1264.6,1375.2 1266.8,1375.9 1268.5,1362.8 1270.7,1380.8 1271.0,1370.3 1272.6,1395.9 1274.0,1384.0 1275.9,1360.7 1278.2,1376.9 1280.5,1381.3 1282.7,1361.1 1283.1,1381.7 1284.7,1359.9 1286.1,1382.8 1288.0,1381.8 1289.7,1383.8 1291.3,1373.3 1293.1,1379.2 1295.3,1372.0 1297.2,1389.8 1299.5,1382.8 1299.8,1391.2 1301.4,1376.4 1302.8,1373.7 1305.1,1379.3 1306.8,1374.1 1309.0,1367.4 1311.0,1363.7 1311.6,1375.7 1313.2,1357.8 1314.6,1366.4 1316.5,1377.3 1318.6,1364.8 1320.5,1362.4 1322.4,1370.9 1324.4,1348.9 1326.3,1365.5 1327.9,1345.5 1328.2,1353.1 1329.8,1380.1 1331.2,1353.2 1332.9,1359.7 1334.9,1356.7 1337.0,1350.2 1338.7,1359.0 1339.0,1357.5 1340.6,1346.8 1342.0,1351.7 1343.8,1365.9 1346.2,1366.2 1348.2,1365.6 1350.0,1365.1 1350.3,1364.5 1351.9,1381.7 1353.3,1364.8 1355.1,1375.0 1357.5,1376.5 1359.7,1372.4 1361.9,1386.0 1364.2,1379.0 1366.0,1379.8 1366.3,1384.6 1367.9,1367.3 1369.3,1383.0 1371.2,1384.8 1373.1,1369.4 1374.7,1383.0 1376.7,1375.9 1378.1,1366.5 1379.7,1383.3 1381.1,1367.3 1383.0,1375.0 1385.0,1374.8 1387.2,1371.5 1389.1,1374.8 1391.1,1376.3 1391.4,1384.6 1393.0,1370.5 1394.4,1379.2 1396.5,1380.9 1398.4,1365.3 1400.1,1378.1 1402.5,1374.1 1402.8,1384.9 1404.4,1368.8 1405.8,1359.4 1407.9,1356.9 1409.8,1358.4 1410.1,1365.8 1411.7,1344.6 1413.1,1360.4 1415.1,1353.8 1417.4,1363.2 1419.3,1356.0 1419.6,1350.0 1421.2,1369.0 1422.6,1363.0 1424.7,1368.7 1426.5,1366.7 1428.3,1372.0 1430.1,1364.7 1431.8,1378.5 1431.9,1383.5 1433.5,1370.5 1434.9,1388.1 1437.2,1387.3 1438.8,1385.6 1441.0,1377.1 1441.4,1378.4 1443.0,1392.6 1444.4,1379.6 1446.2,1390.1 1448.5,1396.4 1450.7,1392.4 1450.9,1383.2 1452.5,1401.7 1453.9,1393.0 1455.7,1388.4 1458.0,1404.7 1459.6,1398.3 1461.5,1384.5 1463.7,1391.2 1465.7,1394.4 1467.5,1387.9 1467.8,1394.1 1469.4,1381.6 1470.8,1390.4 1473.1,1381.0 1475.3,1385.2 1477.2,1387.3 1479.1,1380.0 1480.9,1390.2 1482.7,1396.1 1483.0,1378.8 1484.6,1397.5 1486.0,1377.6 1487.8,1381.5 1489.9,1390.5 1491.7,1383.0 1494.0,1388.2 1495.3,1376.5 1496.9,1391.2 1498.3,1390.2 1500.2,1381.9 1501.8,1380.6 1503.9,1386.5 1507.7,1369.0 1510.1,1385.4 1512.4,1385.2 1514.8,1366.0 1516.7,1374.3 1517.0,1384.9 1518.6,1369.6 1520.0,1379.8 1522.0,1367.2 1523.7,1363.1 1526.0,1368.9 1528.3,1373.7 1529.1,1372.6 1530.7,1353.1 1532.1,1363.5 1534.1,1368.0 1535.9,1373.5 1537.6,1367.7 1539.4,1378.2 1541.7,1380.4 1541.7,1374.9 1543.3,1384.9 1544.7,1378.6 1546.4,1381.6 1548.6,1388.4 1550.5,1384.7 1551.2,1389.6 1552.8,1378.2 1554.2,1382.5 1556.0,1367.2 1557.7,1375.6 1559.1,1353.1 1560.7,1374.2 1562.1,1361.4 1564.0,1379.1 1565.7,1375.3 1567.7,1383.5 1570.0,1384.9 1570.2,1376.8 1571.8,1388.7 1573.2,1396.8 1575.5,1397.0 1577.5,1398.5 1579.5,1409.5 1579.7,1394.5 1581.3,1413.4 1582.7,1410.9 1584.7,1405.4 1587.0,1403.9 1589.0,1398.9 1589.2,1403.7 1590.8,1416.5 1592.2,1402.6 1594.1,1406.8 1596.1,1404.8 1598.1,1407.7 1599.7,1405.4 1601.5,1406.8 1603.1,1406.5 1605.1,1407.7 1605.4,1412.2 1607.0,1399.0 1608.4,1404.5 1610.3,1410.7 1612.6,1419.0 1614.9,1412.3 1617.0,1412.2 1618.9,1404.7 1620.7,1417.8 1620.9,1421.3 1622.5,1407.0 1623.9,1418.3 1626.0,1414.1 1627.6,1423.7 1629.7,1419.3 1630.4,1423.2 1632.0,1411.7 1633.4,1415.1 1635.7,1411.4 1638.1,1422.2 1640.1,1414.7 1641.5,1408.6 1643.1,1422.9 1644.5,1406.3 1646.6,1415.9 1648.9,1418.1 1650.6,1414.4 1652.4,1420.2 1652.6,1414.7 1654.2,1429.2 1655.6,1415.2 1657.3,1414.7 1659.5,1421.1 1661.1,1413.1 1662.9,1408.6 1665.1,1410.0 1665.2,1408.0 1666.8,1421.3 1668.2,1400.2 1670.2,1410.0 1672.1,1400.8 1674.2,1421.6 1674.7,1415.1 1676.3,1395.9 1677.7,1423.1 1680.1,1408.4 1682.1,1416.3 1683.9,1415.8 1685.9,1410.2 1688.2,1429.7 1688.5,1423.8 1690.1,1406.9 1691.5,1417.5 1693.8,1423.1 1695.9,1429.1 1696.9,1417.6 1698.5,1437.1 1699.9,1423.6 1702.1,1420.6 1704.1,1430.8 1706.4,1422.2 1706.4,1413.3 1708.0,1424.5 1709.4,1425.5 1711.4,1425.0 1713.6,1416.0 1715.5,1427.2 1717.8,1422.3 1719.4,1417.4 1719.7,1430.5 1721.3,1418.0 1722.7,1413.4 1724.5,1416.3 1726.5,1418.3 1728.5,1405.5 1728.6,1417.9 1730.2,1402.2 1731.6,1408.5 1733.8,1411.1 1735.8,1408.0 1737.6,1407.0 1739.6,1417.2 1739.7,1402.2 1741.3,1416.3 1742.7,1408.9 1744.7,1411.4 1746.7,1418.3 1748.6,1413.9 1750.4,1418.0 1750.7,1414.9 1752.3,1428.2 1753.7,1428.5 1755.7,1426.0 1758.1,1418.9 1760.1,1433.0 1762.5,1432.5 1763.4,1424.2 1765.0,1438.7 1766.4,1438.5 1768.6,1436.5 1770.5,1434.1 1772.8,1422.3 1775.1,1431.6 1776.1,1439.7 1777.7,1424.4 1779.1,1427.1 1780.8,1423.9 1782.6,1435.8 1784.9,1445.5 1786.9,1420.8 1787.2,1437.2 1788.8,1418.0 1790.2,1431.2 1792.1,1433.4 1794.4,1430.3 1796.4,1433.4 1796.7,1443.4 1798.3,1429.9 1799.7,1427.4 1801.9,1438.6 1803.9,1428.0 1805.8,1421.7 1806.2,1419.1 1807.8,1448.2 1809.2,1419.1 1810.9,1425.8 1812.6,1427.3 1814.3,1434.3 1816.1,1445.1 1817.8,1434.6 1818.1,1445.0 1819.7,1430.6 1821.1,1427.0 1822.7,1431.8 1825.0,1434.9 1827.0,1438.9 1829.0,1437.9 1829.9,1438.5 1831.5,1427.5 1832.9,1437.9 1834.9,1439.2 1837.1,1429.9 1839.4,1430.6 1841.5,1431.2 1842.6,1430.7 1844.2,1441.9 1845.6,1426.8 1847.3,1428.9 1849.5,1435.2 1851.4,1438.8 1853.0,1435.5 1854.9,1428.1 1856.9,1434.6" fill="none" stroke="#0000ff" stroke-width="14" stroke-linejoin="round" stroke-linecap="round"/></g>
<g clip-path="url(#c3)"><polyline points="185.8,2081.4 187.5,2077.8 190.0,2071.8 190.4,2070.7 193.5,2063.2 194.0,2061.4 195.1,2059.2 197.1,2052.6 202.0,2050.4 201.6,2045.6 205.5,2041.2 207.2,2041.1 207.6,2038.1 211.3,2033.1 211.3,2027.4 209.4,2028.2 211.8,2020.8 216.1,2020.0 213.4,2014.4 215.3,2010.6 214.8,2008.3 217.1,2004.2 217.2,1999.2 217.2,1999.5 221.5,1994.4 219.1,1988.9 219.8,1986.2 220.3,1982.4 221.7,1978.5 224.8,1976.3 224.6,1972.3 225.7,1970.9 225.3,1963.8 227.0,1961.9 229.3,1957.0 230.5,1953.0 229.6,1951.6 229.3,1950.3 232.2,1943.2 232.3,1941.9 231.0,1935.8 234.9,1935.5 235.3,1930.4 236.5,1926.1 239.4,1926.1 238.5,1917.8 239.2,1918.2 239.5,1911.2 239.5,1910.7 242.4,1905.1 243.1,1903.9 245.5,1900.8 243.6,1897.1 246.7,1893.9 246.6,1889.0 246.1,1886.8 247.4,1882.6 246.2,1876.0 247.2,1874.9 249.5,1869.5 248.3,1869.7 248.5,1866.1 252.8,1860.8 254.7,1857.8 250.5,1855.6 253.3,1851.3 256.1,1843.3 253.0,1838.6 257.4,1838.4 255.4,1830.8 257.4,1830.6 260.5,1827.2 262.9,1823.0 266.1,1817.4 264.1,1824.5 269.4,1824.6 268.1,1828.5 270.2,1833.1 271.9,1835.4 271.2,1839.2 272.4,1842.2 274.8,1845.8 277.8,1851.4 277.1,1855.3 277.0,1855.7 277.1,1861.2 279.4,1864.6 280.1,1871.3 279.5,1873.2 282.3,1876.3 284.9,1879.8 282.4,1883.3 288.5,1888.1 285.6,1895.0 289.7,1898.7 289.6,1901.8 289.6,1902.7 295.0,1908.3 296.5,1911.9 298.6,1914.6 298.9,1919.4 298.3,1927.1 301.4,1929.4 304.6,1905.9 306.4,1935.1 307.6,1950.8 309.2,1909.4 310.6,1906.2 312.8,1895.5 314.8,1914.0 317.0,1920.7 318.7,1915.9 319.0,1929.0 320.6,1890.5 322.0,1916.2 324.0,1912.4 325.7,1907.0 327.7,1924.0 328.0,1896.9 329.6,1919.0 331.0,1897.2 333.3,1897.0 335.4,1901.6 337.6,1912.5 339.6,1899.1 341.5,1885.2 341.8,1911.4 343.4,1877.9 344.8,1892.2 346.6,1887.1 348.5,1913.9 350.7,1912.9 353.0,1880.3 354.7,1868.5 356.5,1895.3 356.8,1909.6 358.4,1871.7 359.8,1886.8 361.7,1884.3 363.7,1876.6 365.8,1894.4 367.9,1878.7 368.7,1880.0 370.3,1858.9 371.7,1863.6 374.0,1868.7 376.1,1862.7 377.8,1855.1 380.1,1862.1 382.1,1847.4 383.9,1852.5 384.6,1835.1 386.2,1856.7 387.6,1847.7 389.4,1833.3 391.8,1852.9 393.6,1847.0 395.4,1854.8 397.1,1835.2 398.8,1840.3 400.7,1826.7 402.5,1827.4 404.3,1842.4 404.6,1814.5 406.2,1841.0 407.6,1821.4 410.0,1840.5 412.1,1821.5 414.2,1825.3 416.0,1825.4 417.8,1825.8 419.9,1818.8 420.2,1811.4 421.8,1822.1 423.2,1810.8 425.6,1802.2 427.5,1811.7 429.8,1801.2 431.5,1802.5 432.1,1778.4 433.7,1803.5 435.1,1779.4 437.2,1783.1 439.3,1773.4 441.5,1773.1 443.8,1766.6 446.0,1765.2 447.9,1780.2 448.2,1763.4 449.8,1794.0 451.2,1763.1 453.4,1759.9 455.5,1762.5 457.8,1754.6 458.1,1768.7 459.7,1751.5 461.1,1758.9 462.8,1738.8 464.6,1747.0 466.8,1757.1 468.9,1751.4 470.1,1760.6 471.7,1729.0 473.1,1735.7 474.7,1752.1 476.4,1731.1 478.2,1751.1 480.0,1751.7 481.9,1732.2 484.1,1725.7 486.2,1707.3 486.5,1737.5 488.1,1706.8 489.5,1725.2 491.8,1737.4 493.6,1733.7 495.3,1732.2 496.9,1739.4 498.6,1711.7 498.6,1692.6 500.2,1738.6 501.6,1734.4 503.8,1713.8 505.8,1725.3 508.0,1716.3 510.3,1701.0 511.2,1690.3 512.8,1724.4 514.2,1682.6 516.5,1711.5 518.4,1694.8 520.5,1711.3 522.4,1710.7 524.2,1710.4 526.1,1721.8 527.7,1712.5 528.0,1729.1 529.6,1690.6 531.0,1669.7 532.7,1683.4 535.0,1677.9 537.1,1691.8 539.2,1660.7 541.0,1701.9 543.2,1709.1 543.5,1710.1 545.1,1663.9 546.5,1687.6 548.9,1693.0 551.2,1681.2 553.1,1679.1 555.4,1690.5 555.6,1688.1 557.2,1662.5 558.6,1666.5 560.4,1678.6 562.4,1676.5 564.7,1671.8 566.6,1663.3 568.6,1679.7 568.9,1671.0 570.5,1687.9 571.9,1676.0 574.1,1675.7 576.3,1695.0 578.0,1696.5 580.0,1676.8 581.6,1681.8 583.8,1662.7 584.1,1656.2 585.7,1695.6 587.1,1689.2 589.1,1697.7 591.0,1712.9 592.6,1695.0 593.6,1683.1 595.2,1713.5 596.6,1722.0 598.9,1695.1 600.7,1727.9 602.6,1722.1 604.9,1708.6 607.1,1726.7 607.4,1703.7 609.0,1732.8 610.4,1738.2 612.4,1734.9 614.6,1741.5 616.9,1727.2 619.1,1724.0 619.4,1728.9 621.0,1762.4 622.4,1753.8 624.3,1751.2 626.2,1749.4 628.0,1758.3 630.3,1746.7 632.1,1743.9 633.3,1781.0 635.7,1767.4 637.8,1769.3 639.7,1772.3 641.6,1773.5 643.4,1759.4 645.1,1759.5 647.4,1763.8 647.7,1771.7 649.3,1791.9 650.7,1770.2 652.9,1780.8 655.1,1786.7 657.2,1788.0 659.4,1768.1 661.0,1814.0 662.9,1779.9 663.2,1817.2 664.8,1779.2 666.2,1776.5 668.1,1783.0 670.3,1807.5 672.6,1795.5 674.3,1783.7 675.2,1808.4 676.8,1783.9 678.2,1791.1 680.1,1796.1 682.2,1809.2 684.0,1804.6 686.3,1822.5 688.1,1818.8 690.2,1833.8 691.0,1798.3 692.6,1839.4 694.0,1815.8 695.9,1842.9 698.0,1825.1 699.9,1801.2 701.7,1810.1 703.9,1819.2 704.2,1806.0 705.8,1835.0 707.2,1839.2 709.2,1850.8 711.5,1815.1 713.2,1812.8 715.5,1832.4 716.4,1854.8 718.0,1809.2 719.4,1836.0 721.3,1817.5 723.6,1828.5 725.4,1827.2 725.9,1809.2 727.5,1828.9 728.9,1817.8 731.0,1820.8 733.4,1815.2 735.0,1810.6 739.4,1822.7 740.9,1819.4 742.5,1813.7 742.5,1812.8 739.3,1807.3 740.9,1801.9 743.4,1801.7 743.3,1793.8 743.5,1794.4 743.9,1790.6 745.5,1785.7 744.8,1779.9 745.3,1776.2 743.2,1772.4 743.8,1767.2 743.5,1764.6 744.2,1759.5 747.2,1759.7 745.6,1755.4 748.7,1748.1 747.6,1747.1 746.3,1745.0 750.1,1739.6 749.5,1737.4 747.7,1734.0 750.8,1727.5 750.1,1725.0 750.0,1722.8 752.2,1719.5 757.3,1722.9 755.6,1724.1 760.6,1731.5 763.2,1732.3 766.8,1736.5 767.9,1740.4 770.2,1748.3 771.8,1779.2 773.2,1744.0 775.3,1777.4 777.2,1777.6 777.5,1749.0 779.1,1777.0 780.5,1772.0 782.1,1784.7 784.0,1762.0 786.1,1758.7 788.2,1764.2 789.2,1763.6 790.8,1798.2 792.2,1767.0 794.0,1757.0 796.3,1788.8 798.0,1773.3 800.2,1799.2 802.1,1768.2 802.4,1752.2 804.0,1803.6 805.4,1754.7 807.8,1779.6 809.9,1797.0 812.2,1794.1 813.9,1772.9 816.1,1791.1 817.7,1795.3 819.5,1782.1 821.5,1806.1 821.8,1785.4 823.4,1817.2 824.8,1787.3 826.8,1781.3 828.9,1809.2 830.7,1789.7 833.0,1807.3 835.2,1813.3 837.2,1818.8 837.5,1816.1 839.1,1793.4 840.5,1825.2 842.3,1807.4 844.0,1801.3 846.3,1797.5 848.6,1802.8 850.7,1815.9 852.6,1799.7 852.9,1823.7 854.5,1785.4 855.9,1786.9 858.1,1799.5 859.7,1795.2 861.3,1815.8 863.7,1817.8 865.7,1801.3 867.8,1805.1 868.4,1827.8 870.0,1798.1 871.4,1826.7 873.5,1819.8 875.2,1828.1 877.4,1807.5 879.4,1825.7 881.5,1817.5 883.7,1829.8 884.2,1831.8 885.8,1806.0 887.2,1827.3 889.0,1815.8 891.0,1809.1 892.8,1825.8 894.7,1847.1 896.5,1824.4 898.5,1848.4 900.3,1852.2 900.6,1838.5 902.2,1802.9 903.6,1823.2 905.5,1839.6 907.5,1843.1 909.6,1841.5 911.4,1834.1 913.2,1835.0 915.2,1818.0 915.9,1842.0 917.5,1818.7 918.9,1820.9 920.6,1847.3 922.9,1839.6 925.3,1845.2 927.2,1840.8 928.6,1826.6 930.2,1848.7 931.6,1844.8 933.6,1840.5 935.7,1863.3 937.9,1867.1 939.8,1851.8 940.1,1834.5 941.7,1867.8 943.1,1857.6 945.2,1854.6 947.3,1842.9 949.1,1845.4 951.0,1832.9 951.3,1864.7 952.9,1842.1 954.3,1852.0 956.6,1863.7 958.4,1854.7 960.3,1845.3 962.6,1844.1 963.4,1828.2 965.0,1863.8 966.4,1868.8 968.1,1834.0 969.7,1847.9 972.1,1865.7 974.2,1849.4 976.4,1839.8 978.4,1849.7 980.7,1852.6 988.0,1854.4 990.8,1851.8 991.2,1848.2 989.1,1845.9 987.6,1841.4 987.9,1834.5 988.6,1832.7 992.8,1830.9 992.4,1825.2 991.0,1822.1 991.4,1818.8 993.2,1813.1 994.9,1809.8 994.8,1805.6 990.7,1806.8 992.6,1800.4 995.0,1795.3 994.6,1795.6 994.5,1787.9 993.2,1788.6 993.9,1784.1 996.6,1780.9 997.0,1776.2 998.2,1773.5 995.8,1766.7 998.3,1765.5 999.4,1760.4 1001.6,1758.3 999.5,1752.4 999.0,1749.2 1002.2,1746.2 1003.8,1742.3 1005.0,1742.1 1005.2,1737.7 1004.3,1732.5 1005.8,1728.8 1010.0,1732.0 1011.4,1737.6 1009.2,1739.6 1011.4,1743.3 1014.4,1747.8 1012.6,1751.2 1012.3,1752.5 1013.0,1759.5 1015.5,1759.3 1015.1,1766.6 1015.5,1771.1 1014.3,1770.7 1015.2,1773.6 1017.9,1779.3 1017.3,1783.1 1017.0,1786.1 1018.7,1792.1 1020.1,1794.1 1017.9,1797.7 1020.9,1800.1 1016.7,1804.5 1021.4,1806.3 1019.3,1812.2 1021.3,1814.3 1022.4,1820.4 1022.7,1824.2 1020.4,1825.4 1022.8,1828.6 1024.0,1835.6 1026.6,1835.7 1027.5,1841.8 1026.3,1844.1 1027.0,1848.3 1031.4,1851.5 1030.6,1854.7 1035.2,1858.4 1033.9,1862.0 1035.5,1867.0 1037.8,1850.4 1039.4,1881.4 1040.8,1876.7 1042.9,1879.2 1051.1,1879.3 1053.0,1884.9 1054.7,1898.3 1055.0,1871.0 1056.6,1901.5 1058.0,1901.6 1060.2,1894.6 1062.3,1893.6 1064.5,1895.7 1066.2,1918.5 1068.1,1902.6 1069.9,1909.7 1070.9,1916.9 1072.5,1880.5 1073.9,1915.3 1076.2,1901.4 1078.2,1913.3 1079.9,1932.5 1082.0,1927.7 1083.8,1917.1 1084.1,1931.6 1085.7,1896.3 1087.1,1921.9 1089.1,1905.0 1091.1,1914.9 1093.0,1918.0 1095.2,1926.2 1095.5,1895.6 1097.1,1937.6 1098.5,1894.3 1100.7,1924.4 1102.5,1938.9 1104.5,1921.5 1106.4,1929.3 1108.5,1924.9 1108.9,1912.2 1110.5,1935.0 1111.9,1934.9 1113.7,1931.9 1115.6,1923.8 1117.3,1935.8 1119.7,1940.6 1121.3,1941.1 1121.5,1937.9 1123.1,1912.2 1124.5,1934.8 1126.2,1926.5 1128.1,1936.4 1129.9,1930.9 1131.6,1932.0 1134.0,1933.8 1134.2,1945.5 1135.8,1912.7 1137.2,1925.3 1139.2,1924.6 1141.5,1922.3 1143.8,1930.7 1146.1,1923.2 1146.9,1902.7 1148.5,1936.5 1149.9,1933.0 1151.9,1934.2 1154.3,1913.4 1156.4,1913.9 1158.7,1931.8 1159.6,1921.4 1161.2,1959.8 1162.6,1908.3 1164.5,1899.6 1166.2,1923.6 1168.2,1911.6 1168.5,1902.8 1170.1,1923.4 1171.5,1913.8 1173.2,1915.9 1175.5,1921.7 1177.3,1906.2 1179.5,1913.5 1181.8,1911.3 1182.1,1924.5 1183.7,1904.3 1185.1,1920.5 1187.4,1921.0 1189.4,1902.8 1191.2,1907.0 1192.9,1918.7 1194.8,1941.3 1196.4,1932.2 1198.7,1927.9 1199.1,1911.9 1200.7,1945.5 1202.1,1919.9 1204.0,1924.5 1206.0,1923.4 1208.4,1942.8 1210.0,1929.3 1212.3,1953.8 1212.6,1928.0 1214.2,1950.8 1215.6,1929.7 1217.3,1936.5 1219.6,1943.5 1221.4,1933.9 1223.4,1953.9 1225.1,1943.4 1227.3,1953.3 1229.7,1956.0 1230.0,1964.5 1231.6,1943.4 1233.0,1956.8 1234.7,1969.9 1236.4,1972.0 1238.7,1970.3 1241.0,1959.0 1241.9,1950.2 1243.5,1972.0 1244.9,1970.3 1247.3,1961.0 1249.4,1972.2 1251.7,1953.5 1253.8,1960.9 1254.6,1979.5 1256.2,1943.9 1257.6,1946.4 1259.3,1975.8 1260.9,1951.0 1263.3,1962.7 1265.0,1985.9 1266.8,1971.8 1267.2,1961.3 1268.8,1978.7 1270.2,1973.5 1272.3,1979.1 1274.0,1967.8 1275.9,1965.9 1277.7,1975.5 1279.9,1976.9 1282.0,1971.0 1282.3,1983.5 1283.9,1958.9 1285.3,1975.1 1287.0,1972.7 1289.2,1976.3 1291.0,1968.8 1292.6,1992.9 1292.9,1976.1 1294.5,1993.0 1295.9,1985.6 1298.1,1977.9 1299.9,1986.1 1301.5,1974.6 1302.1,1987.8 1303.7,1975.5 1305.1,1982.3 1307.4,1997.4 1309.5,1977.9 1311.2,1988.5 1312.9,1965.5 1313.2,1965.1 1314.8,2002.5 1316.2,1985.8 1318.4,1969.9 1320.6,1970.8 1322.2,1989.2 1324.2,1983.8 1326.1,1995.5 1327.4,1995.2 1329.0,1966.0 1330.4,1989.3 1332.3,1991.1 1334.0,1984.4 1335.7,1978.0 1337.6,1994.4 1337.9,1978.1 1339.5,2000.9 1340.9,1981.2 1343.2,1973.9 1345.4,1975.6 1347.7,1953.4 1348.0,1951.8 1349.6,1977.9 1351.0,1967.5 1353.2,1956.8 1355.0,1958.7 1357.0,1972.5 1358.9,1956.2 1359.1,1969.3 1360.7,1950.2 1362.1,1961.3 1364.0,1950.8 1366.2,1944.3 1368.0,1938.0 1368.6,1928.0 1370.2,1960.1 1371.6,1945.1 1373.3,1943.9 1375.3,1922.3 1377.0,1931.3 1378.7,1940.1 1379.0,1945.5 1380.6,1914.3 1382.0,1953.2 1384.1,1969.0 1384.4,1929.1 1386.0,1974.0 1387.4,1954.4 1389.2,1938.2 1391.4,1963.9 1392.3,1918.5 1393.9,1955.2 1395.3,1945.1 1397.4,1954.3 1399.3,1960.8 1401.6,1970.4 1403.9,1945.4 1404.2,1943.9 1405.8,1972.4 1407.2,1956.3 1409.6,1966.1 1411.2,1968.2 1413.3,1973.6 1415.4,1968.0 1417.6,1975.9 1417.7,1942.3 1419.3,1985.5 1420.7,1959.3 1422.5,1971.9 1424.4,1985.7 1426.6,1968.5 1428.9,1980.9 1429.2,1985.7 1430.8,1966.0 1432.2,1973.6 1434.4,1985.2 1436.7,1977.4 1438.5,1959.6 1438.8,1959.7 1440.4,1998.0 1441.8,1986.2 1444.1,1985.8 1446.4,1995.8 1448.2,1977.5 1450.4,1983.8 1450.9,1991.3 1452.5,2015.2 1453.9,1988.6 1456.3,2008.6 1457.9,2006.3 1458.2,2021.5 1459.8,1995.9 1461.2,2014.0 1463.3,2005.5 1465.5,2000.1 1466.8,2005.7 1468.4,1993.2 1469.8,1998.4 1471.8,1993.7 1473.8,1990.7 1475.9,2001.2 1478.0,2004.3 1478.3,1988.3 1479.9,2015.2 1481.3,2010.5 1483.2,2016.2 1483.5,2031.0 1485.1,2001.6 1486.5,2013.7 1488.3,2018.3 1490.2,2013.0 1492.1,2023.8 1494.0,2018.9 1495.7,2007.3 1496.0,2018.5 1497.6,1994.5 1499.0,2004.8 1501.2,2006.1 1503.3,2011.0 1505.4,2007.0 1507.6,2016.4 1508.7,1995.4 1510.3,2020.8 1511.7,2000.7 1513.8,2020.7 1515.8,1998.0 1517.6,2019.1 1519.4,2022.3 1521.7,2011.4 1523.9,2017.0 1524.2,2022.3 1525.8,2002.7 1527.2,2011.5 1529.1,2010.7 1531.0,2023.0 1533.3,2029.5 1535.5,2024.7 1535.8,2035.3 1537.4,2000.0 1538.8,2011.9 1541.1,2011.0 1543.4,2022.1 1545.3,2017.0 1547.1,2028.3 1547.4,2013.0 1549.0,2038.2 1550.4,2024.4 1552.8,2028.3 1554.6,2007.0 1556.5,2002.2 1558.3,2024.4 1558.6,2009.4 1560.2,2031.0 1561.6,2022.4 1563.8,2017.1 1565.9,2028.8 1568.2,2014.0 1570.5,2019.8 1572.1,2032.8 1572.5,2024.0 1574.1,2001.4 1575.5,2016.4 1577.5,2004.2 1579.8,2013.4 1582.1,2037.5 1584.3,2020.2 1586.0,2030.7 1587.0,2041.1 1588.6,2020.7 1590.0,2039.4 1592.0,2016.7 1593.6,2026.9 1595.6,2017.4 1597.4,2031.2 1599.0,2012.0 1600.0,2034.3 1601.6,2004.3 1603.0,2009.0 1604.9,2019.8 1606.6,2021.0 1608.9,2026.0 1610.7,2033.6 1612.6,2025.1 1614.8,2022.6 1616.4,2026.2 1616.7,2038.2 1618.3,2019.0 1619.7,2022.0 1621.8,2011.3 1623.5,2019.7 1625.5,2040.5 1627.6,2036.5 1629.9,2026.2 1630.4,2041.1 1632.0,2016.4 1633.4,2016.2 1635.5,2025.8 1637.5,2039.1 1639.4,2017.1 1641.6,2037.5 1643.5,2017.1 1645.4,2027.9 1645.7,2017.3 1647.3,2031.3 1648.7,2026.3 1650.5,2013.6 1652.5,2025.0 1654.7,2032.5 1656.5,2023.7 1658.7,2018.5 1659.0,2017.0 1660.6,2042.6 1662.0,2026.4 1663.9,2025.3 1666.1,2033.9 1667.9,2028.6 1670.0,2029.9 1671.0,2013.0 1672.6,2038.2 1674.0,2017.2 1676.3,2027.7 1678.4,2024.1 1680.4,2018.1 1682.6,2021.1 1682.9,2033.0 1684.5,2004.3 1685.9,2032.7 1687.6,2013.0 1689.7,2029.1 1691.5,2031.0 1693.5,2021.5 1695.1,2012.5 1697.1,2028.1 1697.4,2041.1 1699.0,2000.0 1700.4,2024.7 1702.3,2031.8 1704.1,2021.5 1705.9,2017.7 1708.0,2037.6 1708.7,2020.9 1710.3,2041.1 1711.7,2028.4 1713.7,2037.9 1715.8,2034.0 1717.7,2026.1 1719.7,2026.1 1720.3,2026.0 1721.9,2036.4 1723.3,2042.4 1725.3,2035.1 1727.2,2020.6 1729.2,2032.2 1731.1,2041.6 1731.9,2043.8 1733.5,2013.0 1734.9,2016.2 1736.7,2042.9 1739.0,2006.9 1740.8,2024.5 1743.1,2053.1 1743.4,2045.3 1745.0,2002.9 1746.4,2032.8 1748.2,2036.8 1750.6,2034.9 1752.6,2005.3 1754.6,2018.9 1756.4,2033.8 1758.0,2016.4 1758.3,2048.4 1759.9,2020.3 1761.3,2023.5 1763.5,2009.0 1765.6,2026.6 1766.6,2007.0 1768.2,2041.1 1769.6,2016.5 1771.8,2020.4 1773.8,2024.8 1776.2,2021.2 1778.5,2039.9 1778.8,2013.0 1780.4,2033.9 1781.8,2041.6 1784.0,2032.9 1786.3,2028.0 1788.5,2049.2 1790.4,2042.4 1792.1,2033.6 1792.7,2044.0 1794.3,2021.7 1795.7,2023.3 1798.0,2047.3 1800.3,2018.6 1802.7,2043.0 1804.9,2025.1 1805.2,2058.5 1806.8,2030.4 1808.2,2049.6 1809.8,2061.4 1811.8,2062.6 1814.0,2041.8 1815.7,2047.6 1817.7,2054.0 1818.0,2033.3 1819.6,2065.8 1821.0,2047.5 1823.0,2061.0 1825.2,2039.4 1827.4,2030.1 1827.5,2033.1 1829.1,2048.4 1830.5,2043.6 1832.5,2049.6 1834.8,2055.2 1836.8,2037.2 1839.0,2045.1 1840.8,2039.6 1842.0,2034.7 1843.6,2063.6 1845.0,2047.2 1846.8,2042.7 1848.6,2051.5 1851.0,2034.2 1852.9,2043.0 1854.7,2045.5 1856.4,2040.8" fill="none" stroke="#ff0000" stroke-width="14" stroke-linejoin="round" stroke-linecap="round"/></g>
<g clip-path="url(#c4)"><polyline points="180.5,2642.4 182.1,2551.5 183.7,2552.1 185.6,2585.4 187.5,2611.2 189.3,2601.9 191.2,2555.4 193.6,2594.7 193.9,2645.3 195.5,2557.2 197.0,2604.7 198.8,2599.5 200.3,2585.5 201.9,2670.7 203.5,2636.3 205.3,2636.2 207.9,2658.6 208.2,2676.4 209.8,2586.9 211.4,2656.5 213.5,2593.8 214.5,2682.0 216.1,2596.8 217.6,2658.1 218.7,2710.3 220.3,2605.3 221.9,2638.2 224.0,2625.1 225.8,2656.6 226.1,2699.0 227.7,2630.8 229.2,2636.3 231.7,2658.6 234.0,2661.0 234.9,2772.6 236.5,2632.2 238.0,2702.6 240.1,2640.8 240.4,2632.2 242.0,2716.0 243.5,2688.5 245.5,2680.7 247.2,2679.1 248.4,2643.5 250.0,2716.0 251.6,2653.0 253.7,2692.3 255.7,2704.3 258.2,2690.8 258.5,2745.7 260.1,2650.6 261.7,2693.3 264.0,2706.9 266.3,2705.4 266.8,2671.8 268.4,2724.5 270.0,2683.8 272.0,2716.1 273.7,2674.0 276.1,2717.3 276.4,2619.5 278.0,2725.9 279.5,2684.0 282.1,2650.9 282.4,2725.9 284.0,2618.0 285.5,2622.7 287.8,2673.3 290.1,2658.9 290.4,2727.3 292.0,2633.6 293.5,2692.3 295.8,2704.2 296.1,2670.4 297.7,2727.3 299.2,2695.2 301.5,2714.4 302.2,2661.9 303.8,2730.2 305.4,2705.7 307.2,2727.3 309.2,2669.2 311.4,2702.8 313.8,2672.9 314.1,2747.1 315.7,2637.9 317.2,2684.7 319.1,2714.6 321.7,2683.0 324.0,2698.2 324.3,2724.5 325.9,2635.0 327.4,2668.7 330.0,2713.2 330.3,2636.4 331.9,2734.4 333.4,2715.6 335.9,2660.1 338.0,2708.1 339.0,2707.5 340.6,2625.1 342.2,2657.8 344.1,2653.2 344.7,2708.9 346.3,2625.1 347.8,2628.2 350.0,2663.8 352.0,2670.4 352.6,2699.0 354.2,2613.8 355.7,2640.6 358.1,2683.8 358.8,2710.3 360.4,2630.8 362.0,2692.9 364.3,2642.3 366.7,2638.0 367.3,2603.9 368.9,2693.4 370.5,2674.8 372.9,2683.2 373.0,2682.0 374.6,2603.9 376.1,2650.3 377.9,2609.1 380.5,2636.1 382.4,2615.3 385.0,2681.8 385.3,2699.0 386.9,2619.5 388.4,2646.2 390.4,2656.3 391.4,2586.9 393.0,2684.9 394.5,2622.1 396.4,2613.9 398.6,2636.5 398.9,2585.5 400.5,2650.9 402.0,2593.0 404.6,2574.9 404.9,2550.1 406.5,2650.9 408.0,2599.8 410.0,2615.9 412.2,2643.3 412.6,2642.4 414.2,2551.5 415.7,2615.9 417.9,2604.4 419.7,2592.0 421.8,2648.5 423.6,2610.2 425.5,2583.8 425.8,2558.6 427.4,2650.9 428.9,2591.0 431.5,2653.3 433.5,2615.3 433.8,2672.1 435.4,2568.5 437.0,2619.6 439.3,2620.1 441.6,2592.4 442.3,2667.9 443.9,2567.1 445.5,2625.7 448.0,2597.3 449.9,2611.2 450.2,2591.2 451.8,2645.3 453.3,2621.0 455.5,2580.4 457.3,2645.8 457.9,2568.5 459.5,2645.3 461.0,2561.0 463.2,2580.2 463.5,2639.6 465.1,2548.7 466.7,2600.5 468.9,2641.6 470.7,2596.9 472.0,2540.2 473.6,2642.4 475.2,2579.3 477.0,2585.8 479.3,2497.2 481.6,2490.4 481.9,2466.6 483.5,2611.3 485.1,2568.1 487.4,2514.4 489.0,2500.6 490.6,2614.1 492.2,2495.0 494.0,2491.0 496.0,2537.5 497.9,2543.1 498.2,2482.2 499.8,2611.3 501.4,2556.3 503.2,2489.7 505.0,2519.6 505.3,2557.5 506.9,2483.6 508.4,2504.8 510.2,2484.0 512.2,2515.4 513.1,2550.4 514.7,2446.8 516.2,2528.2 518.3,2513.9 520.6,2491.5 522.8,2468.2 523.0,2432.7 524.6,2526.4 526.1,2463.2 528.5,2421.9 530.5,2399.3 532.9,2438.5 533.2,2509.4 534.8,2384.6 536.4,2468.6 537.1,2386.0 538.7,2465.5 540.3,2405.5 542.9,2420.2 545.2,2406.6 547.0,2432.0 547.0,2364.7 548.6,2459.9 550.2,2353.1 552.1,2371.1 553.3,2319.5 554.9,2444.3 556.4,2412.8 559.0,2368.9 561.2,2432.6 561.5,2353.4 563.1,2444.3 564.7,2439.4 566.9,2375.0 569.0,2412.5 570.8,2404.8 571.1,2433.0 572.7,2359.1 574.2,2402.3 576.0,2374.1 578.3,2427.7 579.6,2459.9 581.2,2357.7 582.7,2409.9 584.6,2402.3 586.8,2384.1 589.7,2379.1 590.9,2458.4 592.5,2351.9 594.0,2352.0 596.0,2419.6 597.9,2337.5 598.2,2281.2 599.8,2457.0 601.4,2343.0 603.4,2403.3 603.9,2440.0 605.5,2332.1 607.1,2395.9 609.2,2418.7 611.3,2415.5 611.6,2457.0 613.2,2354.7 614.7,2398.5 617.1,2407.4 618.6,2513.6 620.2,2377.4 621.8,2444.8 624.3,2435.3 626.0,2456.4 627.1,2516.4 628.7,2434.0 630.3,2522.7 632.5,2515.4 634.5,2585.7 634.8,2470.8 636.4,2590.0 638.0,2584.4 639.9,2570.7 642.1,2584.2 642.4,2490.6 644.0,2587.1 645.5,2579.3 648.1,2543.8 650.5,2545.3 650.8,2584.3 652.4,2489.2 653.9,2554.1 656.0,2567.9 656.8,2540.1 658.4,2607.0 660.0,2567.9 662.4,2570.9 664.4,2573.5 665.3,2598.5 666.9,2540.1 668.5,2575.0 671.0,2631.4 672.9,2568.4 675.0,2637.4 675.2,2665.0 676.8,2552.9 678.4,2563.0 680.2,2559.3 682.5,2630.4 683.7,2552.9 685.3,2643.7 686.9,2553.0 688.9,2617.5 691.3,2622.3 693.3,2632.6 693.6,2653.7 695.2,2551.4 696.8,2613.2 699.1,2602.1 701.5,2583.2 701.8,2551.4 703.4,2645.2 704.9,2586.3 707.5,2587.8 709.2,2589.7 710.8,2643.7 712.3,2646.7 714.7,2640.2 716.9,2697.6 719.4,2650.7 719.7,2586.8 721.3,2720.2 722.8,2623.3 725.1,2647.7 726.2,2586.8 727.8,2680.5 729.3,2633.3 731.2,2623.6 733.5,2608.4 734.7,2674.9 736.3,2584.0 737.8,2666.2 740.1,2687.5 741.9,2703.6 743.9,2710.4 744.2,2634.9 745.8,2724.4 747.4,2688.9 749.2,2675.5 751.7,2685.4 752.0,2727.2 753.6,2654.7 755.2,2687.3 757.1,2719.5 758.9,2685.0 761.0,2653.4 763.4,2610.3 763.7,2724.4 765.3,2601.0 766.8,2628.1 769.3,2638.5 771.7,2643.5 772.0,2634.9 773.6,2723.0 775.1,2700.7 777.0,2685.9 778.8,2679.3 780.8,2646.2 783.2,2727.6 783.5,2650.5 785.1,2727.2 786.6,2655.7 788.9,2716.7 791.0,2730.0 793.1,2687.7 794.1,2734.3 795.7,2671.7 797.2,2714.6 799.4,2677.9 802.0,2667.1 803.9,2701.3 804.0,2634.9 805.6,2737.1 807.2,2681.9 809.7,2680.5 811.9,2705.4 813.7,2705.5 813.9,2668.9 815.5,2728.7 817.1,2703.8 819.7,2676.5 820.0,2671.7 821.6,2748.5 823.1,2729.4 825.3,2655.0 827.8,2649.8 828.1,2640.6 829.7,2717.3 831.2,2672.0 833.4,2698.1 835.8,2701.9 836.6,2668.9 838.2,2737.1 839.7,2719.0 842.3,2736.0 844.5,2728.9 846.3,2718.9 848.8,2708.2 851.4,2676.7 851.7,2654.7 853.3,2742.8 854.8,2691.7 856.7,2740.7 858.7,2667.5 861.2,2738.3 863.1,2669.6 863.4,2752.7 865.0,2671.7 866.6,2716.1 868.5,2702.2 870.8,2674.4 872.8,2690.0 873.4,2731.5 875.0,2629.3 876.5,2680.0 878.8,2673.4 881.0,2625.4 883.3,2686.0 885.6,2647.6 886.1,2612.3 887.7,2717.3 889.2,2690.8 891.6,2664.9 893.5,2675.6 895.5,2665.9 897.6,2668.9 897.9,2618.0 899.5,2714.5 901.0,2640.7 902.9,2644.7 905.1,2732.8 905.4,2732.9 907.0,2637.8 908.5,2676.2 910.9,2685.5 912.9,2657.4 915.5,2645.8 915.8,2686.2 917.4,2634.9 918.9,2643.8 920.7,2636.6 922.9,2686.7 925.2,2686.7 925.7,2605.2 927.3,2686.2 928.8,2614.6 930.6,2624.8 932.7,2645.5 934.2,2704.6 935.8,2618.0 937.3,2637.1 939.7,2620.6 942.3,2635.8 942.7,2596.7 944.3,2680.5 945.8,2630.8 947.7,2670.2 950.2,2638.9 951.2,2689.0 952.8,2629.3 954.3,2646.5 956.3,2631.8 958.1,2671.7 960.1,2653.7 962.3,2706.0 965.2,2653.3 967.2,2675.0 969.0,2638.8 971.1,2665.7 973.4,2648.1 975.8,2653.8 976.1,2627.4 977.7,2699.8 979.2,2627.6 981.7,2668.6 982.6,2680.1 984.2,2610.7 985.7,2646.1 987.5,2647.2 989.5,2655.5 991.8,2636.4 994.0,2652.7 994.7,2686.1 996.3,2625.9 997.8,2657.6 999.7,2626.2 1001.8,2648.5 1002.3,2704.3 1003.9,2627.4 1005.4,2673.9 1007.2,2681.0 1009.5,2688.9 1011.9,2660.2 1013.8,2694.5 1014.4,2606.1 1016.0,2707.3 1017.5,2648.8 1019.8,2612.7 1022.2,2660.3 1024.3,2680.7 1024.6,2575.8 1026.2,2680.1 1027.7,2652.5 1030.3,2699.9 1031.1,2648.6 1032.7,2704.3 1034.2,2694.2 1036.7,2684.1 1038.5,2728.8 1038.7,2659.2 1040.3,2733.1 1041.8,2726.2 1044.2,2706.8 1046.2,2714.8 1046.2,2678.9 1047.8,2757.4 1049.4,2723.1 1051.5,2724.4 1053.4,2718.1 1055.9,2704.6 1056.8,2666.8 1058.4,2757.4 1060.0,2750.6 1061.8,2769.1 1062.1,2783.2 1063.7,2678.9 1065.2,2711.7 1067.8,2722.6 1069.8,2751.6 1070.5,2761.9 1072.1,2685.0 1073.6,2706.6 1075.5,2695.7 1077.6,2727.4 1080.1,2708.0 1080.4,2709.2 1082.0,2760.4 1083.5,2703.4 1085.4,2715.9 1087.3,2737.1 1089.7,2743.1 1092.0,2724.3 1092.3,2685.6 1093.9,2765.0 1095.4,2735.9 1097.2,2749.9 1097.8,2771.0 1099.4,2697.1 1100.9,2723.3 1103.5,2743.7 1105.7,2707.3 1106.0,2768.0 1107.6,2700.1 1109.2,2699.6 1111.0,2694.4 1113.2,2698.1 1113.9,2680.4 1115.5,2774.1 1117.0,2738.2 1117.5,2793.8 1119.1,2691.1 1120.6,2732.7 1122.9,2793.3 1125.4,2792.9 1125.7,2724.4 1127.3,2792.2 1128.8,2735.9 1131.4,2746.2 1133.2,2728.4 1134.2,2799.8 1135.8,2709.2 1137.3,2747.3 1139.7,2777.7 1142.2,2753.1 1144.3,2770.9 1146.2,2722.2 1146.3,2799.8 1147.9,2716.8 1149.4,2731.2 1152.0,2766.9 1154.2,2774.2 1156.6,2755.2 1158.6,2771.9 1161.2,2780.5 1161.5,2724.4 1163.1,2804.4 1164.6,2761.8 1167.1,2769.8 1168.9,2764.8 1171.2,2778.4 1173.2,2802.2 1173.6,2801.3 1175.2,2727.4 1176.7,2776.2 1178.7,2755.5 1180.8,2766.4 1183.2,2772.1 1183.5,2801.3 1185.1,2725.9 1186.7,2795.3 1188.9,2774.1 1190.3,2816.5 1191.9,2727.4 1193.4,2781.4 1195.5,2763.4 1196.3,2722.9 1197.9,2807.4 1199.5,2777.7 1201.4,2758.8 1203.4,2752.7 1205.2,2792.2 1207.5,2786.3 1208.5,2804.4 1210.1,2733.5 1211.6,2769.3 1214.0,2769.2 1216.2,2744.4 1218.3,2738.2 1219.1,2798.3 1220.7,2739.6 1222.2,2772.8 1224.7,2782.7 1225.1,2754.7 1226.7,2816.5 1228.3,2763.0 1230.9,2781.8 1233.2,2786.2 1235.1,2809.2 1237.1,2807.0 1239.6,2747.9 1240.3,2742.6 1241.9,2833.2 1243.4,2815.7 1245.8,2805.6 1248.4,2791.4 1250.9,2823.8 1253.0,2800.3 1253.3,2745.6 1254.9,2825.6 1256.4,2809.7 1258.5,2822.5 1258.5,2771.4 1260.1,2834.7 1261.6,2811.1 1263.5,2793.9 1265.6,2805.9 1267.8,2804.3 1270.3,2757.2 1270.6,2756.2 1272.2,2825.6 1273.8,2758.4 1276.1,2757.7 1278.4,2832.3 1280.7,2799.7 1282.4,2802.3 1284.3,2790.9 1285.8,2839.3 1287.4,2751.7 1288.9,2816.9 1291.0,2767.8 1293.5,2804.4 1296.1,2797.1 1298.3,2811.8 1298.6,2825.6 1300.2,2762.3 1301.7,2817.5 1303.8,2843.3 1306.2,2811.5 1306.5,2779.0 1308.1,2851.4 1309.6,2810.6 1312.0,2825.2 1313.8,2811.9 1316.3,2818.7 1316.6,2837.7 1318.2,2788.1 1319.8,2805.9 1321.8,2798.4 1323.9,2818.4 1325.9,2799.4 1326.7,2830.2 1328.3,2769.9 1329.9,2821.7 1331.8,2771.8 1333.7,2805.0 1335.6,2792.8 1337.6,2805.0 1337.9,2776.0 1339.5,2827.1 1341.0,2791.5 1343.3,2783.9 1345.5,2778.5 1347.5,2779.4 1348.0,2760.8 1349.6,2834.7 1351.1,2804.0 1353.4,2774.9 1355.5,2819.4 1357.5,2843.5 1358.6,2763.8 1360.2,2849.9 1361.7,2791.5 1363.9,2798.4 1366.0,2822.3 1366.1,2785.1 1367.7,2860.5 1369.3,2805.0 1371.6,2814.8 1374.2,2813.3 1376.4,2841.9 1376.8,2857.4 1378.4,2785.1 1379.9,2816.2 1382.0,2815.9 1384.3,2851.3 1386.3,2852.1 1386.6,2851.4 1388.2,2803.2 1389.7,2826.0 1391.7,2819.8 1394.2,2806.9 1396.2,2789.7 1397.0,2776.1 1398.6,2862.1 1400.1,2818.0 1402.3,2829.0 1404.6,2831.8 1406.4,2806.4 1408.9,2792.0 1411.0,2806.9 1411.5,2777.7 1413.1,2879.9 1414.7,2840.5 1417.2,2835.2 1419.8,2869.3 1421.9,2784.4 1424.2,2815.4 1424.5,2787.4 1426.1,2860.5 1427.6,2812.7 1430.0,2829.7 1432.1,2839.6 1434.1,2810.2 1436.1,2820.5 1438.0,2802.3 1440.0,2801.1 1440.7,2776.1 1442.3,2855.6 1443.8,2778.5 1446.3,2797.6 1448.3,2816.9 1450.9,2828.8 1452.8,2827.0 1453.6,2792.2 1455.2,2871.8 1456.7,2849.1 1458.9,2831.8 1461.4,2833.4 1463.3,2853.4 1465.2,2811.5 1466.9,2848.5 1469.1,2841.1 1469.8,2806.8 1471.4,2855.6 1472.9,2838.4 1474.8,2835.4 1476.7,2846.1 1478.8,2856.0 1480.9,2850.2 1483.2,2868.4 1483.5,2871.8 1485.1,2811.6 1486.7,2815.6 1489.2,2856.7 1491.6,2851.5 1493.7,2846.2 1494.0,2858.9 1495.6,2827.8 1497.2,2829.8 1499.4,2834.3 1501.8,2842.0 1504.4,2840.2 1505.3,2868.6 1506.9,2814.9 1508.5,2823.2 1511.1,2843.4 1512.9,2829.4 1515.0,2844.0 1517.4,2827.2 1517.7,2860.5 1519.3,2805.2 1520.9,2823.4 1522.7,2825.9 1525.1,2842.8 1527.1,2848.3 1528.0,2868.6 1529.6,2827.8 1531.1,2850.9 1533.1,2863.2 1535.4,2845.1 1537.7,2828.1 1540.1,2825.2 1540.9,2868.6 1542.5,2816.5 1544.1,2814.5 1546.1,2855.3 1548.3,2836.4 1550.6,2837.1 1552.8,2835.5 1554.6,2833.0 1554.9,2808.4 1556.5,2862.1 1558.0,2839.6 1560.2,2844.6 1562.1,2870.1 1564.0,2851.0 1566.2,2861.7 1566.8,2875.0 1568.4,2827.8 1569.9,2851.9 1572.2,2828.8 1574.2,2858.2 1576.3,2870.6 1578.7,2868.2 1579.0,2868.6 1580.6,2823.0 1582.2,2871.0 1584.4,2869.3 1586.3,2815.8 1588.1,2839.0 1590.4,2873.4 1592.9,2874.0 1594.3,2808.4 1595.9,2896.1 1597.4,2826.6 1599.2,2852.1 1601.2,2862.9 1603.4,2823.8 1606.0,2863.0 1606.3,2896.1 1607.9,2827.8 1609.4,2872.0 1612.0,2864.8 1614.6,2872.3 1617.0,2839.0 1618.9,2856.1 1619.2,2837.5 1620.8,2876.7 1622.3,2856.1 1624.8,2847.4 1626.9,2844.9 1628.7,2851.4 1630.9,2876.9 1632.8,2861.3 1633.1,2881.5 1634.7,2819.7 1636.2,2837.6 1638.4,2869.3 1640.3,2852.4 1642.8,2854.7 1644.6,2852.3 1646.7,2836.4 1648.5,2872.7 1648.8,2883.1 1650.4,2834.3 1651.9,2857.4 1654.1,2860.6 1656.0,2877.4 1657.4,2826.2 1659.0,2875.0 1660.5,2867.3 1662.9,2870.1 1664.9,2867.9 1667.2,2854.9 1669.7,2861.8 1670.3,2850.5 1671.9,2875.0 1673.4,2858.0 1675.3,2862.3 1677.1,2877.7 1679.5,2837.3 1681.5,2884.5 1683.3,2831.7 1683.6,2889.6 1685.2,2831.1 1686.7,2852.4 1689.1,2860.0 1691.4,2852.0 1693.7,2847.7 1695.5,2870.6 1696.2,2840.8 1697.8,2871.8 1699.3,2850.9 1701.9,2858.4 1703.9,2864.9 1705.9,2863.7 1707.8,2840.0 1708.1,2878.3 1709.7,2827.8 1711.3,2879.4 1713.7,2836.5 1715.6,2875.7 1717.7,2826.3 1719.7,2828.3 1722.1,2860.1 1722.4,2819.7 1724.0,2881.5 1725.6,2860.8 1727.5,2866.6 1730.1,2844.0 1732.0,2855.9 1733.8,2873.1 1735.6,2873.5 1738.1,2862.7 1738.2,2881.5 1739.8,2834.3 1741.4,2844.3 1743.8,2857.4 1746.0,2845.7 1748.0,2869.2 1750.6,2874.1 1751.2,2840.8 1752.8,2888.0 1754.3,2884.6 1756.6,2878.1 1758.7,2863.8 1760.8,2863.8 1762.9,2864.4 1764.1,2847.2 1765.7,2875.0 1767.2,2846.7 1769.1,2872.9 1771.7,2858.0 1774.2,2850.1 1774.5,2888.0 1776.1,2847.2 1777.6,2867.4 1780.2,2850.9 1782.8,2856.6 1784.7,2869.1 1786.8,2858.0 1788.4,2834.3 1790.0,2871.8 1791.5,2866.1 1793.7,2874.4 1796.3,2861.5 1798.3,2871.5 1800.2,2853.7 1800.5,2891.2 1802.1,2842.4 1803.6,2866.2 1806.0,2872.5 1807.9,2881.7 1809.8,2860.0 1812.0,2919.7 1812.6,2925.2 1814.2,2853.7 1815.8,2891.0 1817.7,2884.1 1819.8,2871.2 1821.9,2854.0 1822.3,2894.4 1823.9,2853.7 1825.5,2872.5 1827.4,2847.4 1829.9,2877.3 1830.4,2814.9 1832.0,2894.4 1833.6,2851.1 1835.6,2853.2 1837.7,2863.7 1839.9,2862.5 1841.8,2894.9 1844.1,2824.3 1846.3,2858.0 1848.0,2854.3 1850.6,2894.9 1852.7,2868.8 1855.1,2847.8 1857.0,2856.4 1859.3,2887.7 1861.7,2834.3 1864.1,2852.5" fill="none" stroke="#000000" stroke-width="14" stroke-linejoin="round" stroke-linecap="round"/></g>
</g>
<g shape-rendering="crispEdges"><rect x="1106" y="146" width="181" height="14" fill="#808000"/><rect x="1147" y="866" width="180" height="13" fill="#0000ff"/><rect x="1139" y="1614" width="181" height="14" fill="#ff0000"/><rect x="1454" y="2349" width="180" height="13" fill="#000"/></g>
<g font-family="'Liberation Serif','Times New Roman',serif" font-weight="bold"><text x="185.3" y="3074" font-size="88" fill="#000" text-anchor="middle" >10</text>
<text x="422.2" y="3074" font-size="88" fill="#000" text-anchor="middle" >20</text>
<text x="659.0" y="3074" font-size="88" fill="#000" text-anchor="middle" >30</text>
<text x="895.9" y="3074" font-size="88" fill="#000" text-anchor="middle" >40</text>
<text x="1132.7" y="3074" font-size="88" fill="#000" text-anchor="middle" >50</text>
<text x="1369.6" y="3074" font-size="88" fill="#000" text-anchor="middle" >60</text>
<text x="1606.4" y="3074" font-size="88" fill="#000" text-anchor="middle" >70</text>
<text x="1843.3" y="3074" font-size="88" fill="#000" text-anchor="middle" >80</text>
<text x="673.3" y="3197" font-size="74.5" fill="#000" text-anchor="start" >Position [<tspan font-size="69" dy="-52">o</tspan><tspan dy="52">2Theta]</tspan></text>
<text transform="translate(107,564) rotate(-90)" font-size="79.5" fill="#000">Counts/ S</text>
<text transform="translate(116,1288) rotate(-90)" font-size="79.5" fill="#000">Counts/ S</text>
<text transform="translate(115,2005) rotate(-90)" font-size="79.5" fill="#000">Counts/ S</text>
<text transform="translate(122,2740) rotate(-90)" font-size="79.5" fill="#000">Counts/ S</text>
<text x="1308" y="180" font-size="79" fill="#808000" text-anchor="start" >PAC/Fe<tspan font-size="48" dy="31">2</tspan><tspan dy="-31">O</tspan><tspan font-size="48" dy="31">3</tspan><tspan dy="-31">NPs</tspan></text>
<text x="1348" y="900" font-size="79" fill="#0000ff" text-anchor="start" >PAC/CuONPs</text>
<text x="1340" y="1646" font-size="79" fill="#ff0000" text-anchor="start" >PAC/NiONPs</text>
<text x="1656" y="2382" font-size="79" fill="#000" text-anchor="start" >PAC</text>
<text x="573" y="234" font-size="79" fill="#808000" text-anchor="start" >220</text>
<text x="743" y="289" font-size="79" fill="#808000" text-anchor="start" >311</text>
<text x="727" y="879" font-size="79" fill="#0000ff" text-anchor="start" >112</text>
<text x="835" y="971" font-size="79" fill="#0000ff" text-anchor="start" >002</text>
<text x="691" y="1684" font-size="79" fill="#ff0000" text-anchor="start" >004</text>
<text x="958" y="1668" font-size="79" fill="#ff0000" text-anchor="start" >200</text>
<text x="1317" y="1861" font-size="79" fill="#ff0000" text-anchor="start" >200</text></g>
</svg>
</body></html>
